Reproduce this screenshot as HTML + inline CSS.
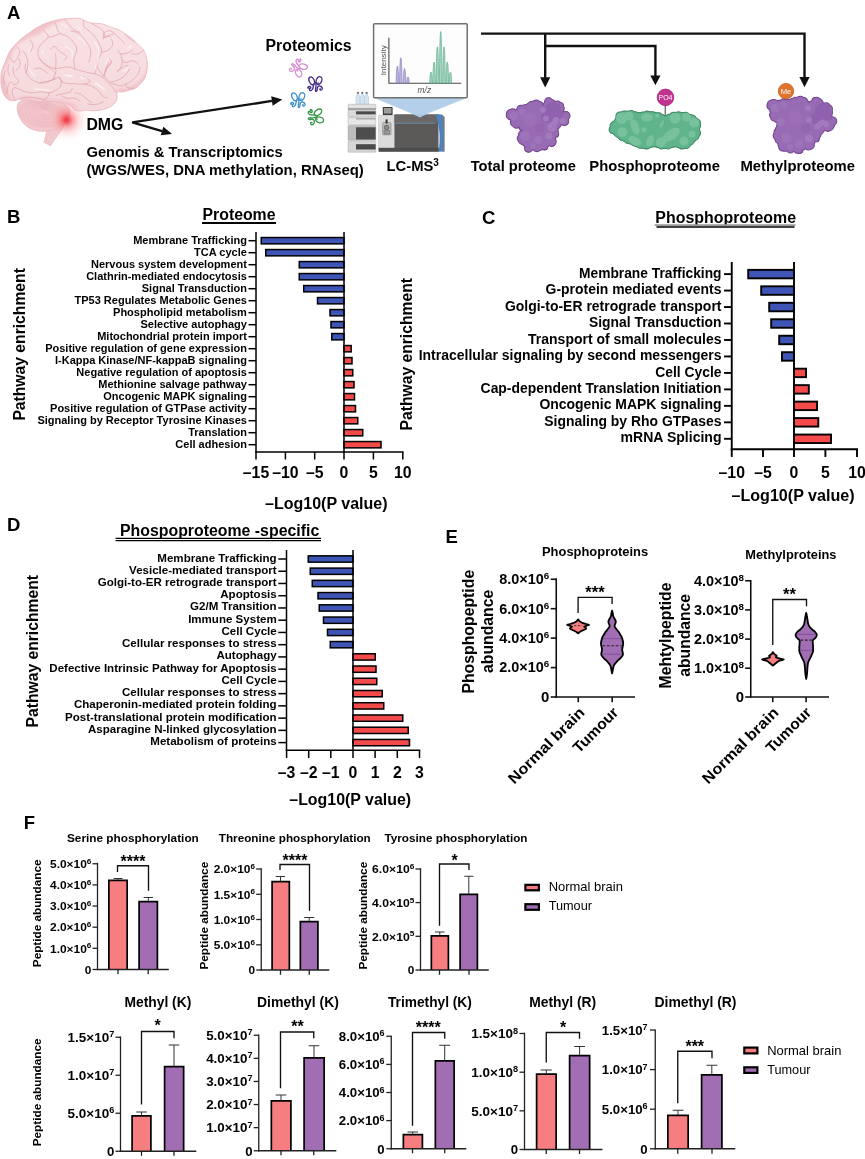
<!DOCTYPE html>
<html><head><meta charset="utf-8"><title>Figure</title>
<style>
html,body{margin:0;padding:0;background:#fff;}
body{width:865px;height:1159px;overflow:hidden;font-family:"Liberation Sans",sans-serif;}
svg{display:block;font-family:"Liberation Sans",sans-serif;opacity:0.999;will-change:transform;}
svg text{font-family:"Liberation Sans",sans-serif;}
</style></head><body>
<svg width="865" height="1159" viewBox="0 0 865 1159">
<rect width="865" height="1159" fill="#fff"/>
<text x="7.00" y="18.60" font-size="18.5" font-weight="bold" fill="#000">A</text>
<defs><radialGradient id="glow" cx="0.5" cy="0.5" r="0.5"><stop offset="0" stop-color="#f3303f" stop-opacity="0.98"/><stop offset="0.12" stop-color="#f44550" stop-opacity="0.9"/><stop offset="0.32" stop-color="#f7767c" stop-opacity="0.62"/><stop offset="0.6" stop-color="#faa5a8" stop-opacity="0.3"/><stop offset="0.85" stop-color="#fcc4c6" stop-opacity="0.1"/><stop offset="1" stop-color="#fdd" stop-opacity="0"/></radialGradient><linearGradient id="bg1" x1="0" y1="0" x2="0" y2="1"><stop offset="0" stop-color="#f9e3e5"/><stop offset="1" stop-color="#f5d8db"/></linearGradient><filter id="soft" x="-20%" y="-20%" width="140%" height="140%"><feGaussianBlur stdDeviation="1.6"/></filter><clipPath id="bclip"><path d="M8.80 99.80 C6.86 98.74 5.80 97.68 4.40 95.40 C3.00 93.12 2.50 91.56 1.80 88.40 C1.10 85.24 0.90 83.12 0.90 79.60 C0.90 76.08 0.92 74.32 1.80 70.80 C2.68 67.28 3.76 65.76 5.30 62.00 C6.84 58.24 7.60 55.38 9.50 52.00 C11.40 48.62 12.50 47.70 14.80 45.10 C17.10 42.50 18.42 41.22 21.00 39.00 C23.58 36.78 24.90 36.04 27.70 34.00 C30.50 31.96 32.04 30.64 35.00 28.80 C37.96 26.96 39.30 26.24 42.50 24.80 C45.70 23.36 47.30 22.72 51.00 21.60 C54.70 20.48 57.20 19.84 61.00 19.20 C64.80 18.56 66.30 18.58 70.00 18.40 C73.70 18.22 76.74 17.92 79.50 18.30 C82.26 18.68 81.54 19.38 83.80 20.30 C86.06 21.22 87.28 22.20 90.80 22.90 C94.32 23.60 97.54 23.00 101.40 23.80 C105.26 24.60 106.60 25.68 110.10 26.90 C113.60 28.12 115.90 28.50 118.90 29.90 C121.90 31.30 122.46 32.14 125.10 33.90 C127.74 35.66 129.46 36.50 132.10 38.70 C134.74 40.90 136.02 42.62 138.30 44.90 C140.58 47.18 141.92 47.64 143.50 50.10 C145.08 52.56 145.42 54.38 146.20 57.20 C146.98 60.02 147.22 61.84 147.40 64.20 C147.58 66.56 147.52 66.46 147.10 69.00 C146.68 71.54 146.36 74.26 145.30 76.90 C144.24 79.54 143.56 80.08 141.80 82.20 C140.04 84.32 138.96 85.92 136.50 87.50 C134.04 89.08 132.30 89.22 129.50 90.10 C126.70 90.98 124.96 91.48 122.50 91.90 C120.04 92.32 118.32 90.80 117.20 92.20 C116.08 93.60 117.60 96.50 116.90 98.90 C116.20 101.30 115.40 102.44 113.70 104.20 C112.00 105.96 110.86 106.56 108.40 107.70 C105.94 108.84 104.56 109.28 101.40 109.90 C98.24 110.52 95.78 110.74 92.60 110.80 C89.42 110.86 87.96 110.16 85.50 110.20 C83.04 110.24 82.40 111.04 80.30 111.00 C78.20 110.96 77.00 111.00 75.00 110.00 C73.00 109.00 73.00 107.50 70.30 106.00 C67.60 104.50 65.72 103.46 61.50 102.50 C57.28 101.54 53.60 101.34 49.20 101.20 C44.80 101.06 43.54 102.00 39.50 101.80 C35.46 101.60 32.86 100.70 29.00 100.20 C25.14 99.70 23.18 99.20 20.20 99.30 C17.22 99.40 16.38 100.60 14.10 100.70 C11.82 100.80 10.74 100.86 8.80 99.80Z"/></clipPath></defs>
<path d="M56 103 C64 110 67 121 62.5 128.5 L55 139 L50.5 145.8 L43.8 142.2 C46.5 134 48.5 126 48 114 Z" fill="#f3ccd0" stroke="#e6b0b7" stroke-width="0.6" />
<path d="M52.0 120.0 L46.0 142.6" fill="none" stroke="#e9b8be" stroke-width="0.5" />
<path d="M55.2 121.5 L48.1 143.7" fill="none" stroke="#e9b8be" stroke-width="0.5" />
<path d="M58.4 123.0 L50.2 144.8" fill="none" stroke="#e9b8be" stroke-width="0.5" />
<path d="M17.60 111.20 C17.06 108.30 16.92 106.64 17.80 104.50 C18.68 102.36 19.16 101.50 22.00 100.50 C24.84 99.50 27.40 99.50 32.00 99.50 C36.60 99.50 39.80 100.00 45.00 100.50 C50.20 101.00 53.60 100.90 58.00 102.00 C62.40 103.10 64.60 103.80 67.00 106.00 C69.40 108.20 70.10 110.00 70.00 113.00 C69.90 116.00 68.90 118.10 66.50 121.00 C64.10 123.90 61.90 125.50 58.00 127.50 C54.10 129.50 51.40 130.40 47.00 131.00 C42.60 131.60 40.00 131.40 36.00 130.50 C32.00 129.60 30.10 128.80 27.00 126.50 C23.90 124.20 22.38 122.06 20.50 119.00 C18.62 115.94 18.14 114.10 17.60 111.20Z" fill="#f2c8cc" stroke="#e4abb3" stroke-width="0.6" />
<g fill="none" stroke="#e3a5af" stroke-width="0.45" opacity="0.9">
<ellipse cx="42.0" cy="114.0" rx="23.0" ry="12.5" transform="rotate(10 42 114)"/>
<ellipse cx="42.5" cy="113.7" rx="20.4" ry="11.1" transform="rotate(10 42 114)"/>
<ellipse cx="43.0" cy="113.3" rx="17.8" ry="9.6" transform="rotate(10 42 114)"/>
<ellipse cx="43.5" cy="113.0" rx="15.2" ry="8.2" transform="rotate(10 42 114)"/>
<ellipse cx="44.0" cy="112.6" rx="12.6" ry="6.7" transform="rotate(10 42 114)"/>
<ellipse cx="44.5" cy="112.2" rx="10.0" ry="5.2" transform="rotate(10 42 114)"/>
<ellipse cx="45.0" cy="111.9" rx="7.4" ry="3.8" transform="rotate(10 42 114)"/>
<ellipse cx="45.5" cy="111.5" rx="4.8" ry="2.3" transform="rotate(10 42 114)"/>
</g>
<path d="M8.80 99.80 C6.86 98.74 5.80 97.68 4.40 95.40 C3.00 93.12 2.50 91.56 1.80 88.40 C1.10 85.24 0.90 83.12 0.90 79.60 C0.90 76.08 0.92 74.32 1.80 70.80 C2.68 67.28 3.76 65.76 5.30 62.00 C6.84 58.24 7.60 55.38 9.50 52.00 C11.40 48.62 12.50 47.70 14.80 45.10 C17.10 42.50 18.42 41.22 21.00 39.00 C23.58 36.78 24.90 36.04 27.70 34.00 C30.50 31.96 32.04 30.64 35.00 28.80 C37.96 26.96 39.30 26.24 42.50 24.80 C45.70 23.36 47.30 22.72 51.00 21.60 C54.70 20.48 57.20 19.84 61.00 19.20 C64.80 18.56 66.30 18.58 70.00 18.40 C73.70 18.22 76.74 17.92 79.50 18.30 C82.26 18.68 81.54 19.38 83.80 20.30 C86.06 21.22 87.28 22.20 90.80 22.90 C94.32 23.60 97.54 23.00 101.40 23.80 C105.26 24.60 106.60 25.68 110.10 26.90 C113.60 28.12 115.90 28.50 118.90 29.90 C121.90 31.30 122.46 32.14 125.10 33.90 C127.74 35.66 129.46 36.50 132.10 38.70 C134.74 40.90 136.02 42.62 138.30 44.90 C140.58 47.18 141.92 47.64 143.50 50.10 C145.08 52.56 145.42 54.38 146.20 57.20 C146.98 60.02 147.22 61.84 147.40 64.20 C147.58 66.56 147.52 66.46 147.10 69.00 C146.68 71.54 146.36 74.26 145.30 76.90 C144.24 79.54 143.56 80.08 141.80 82.20 C140.04 84.32 138.96 85.92 136.50 87.50 C134.04 89.08 132.30 89.22 129.50 90.10 C126.70 90.98 124.96 91.48 122.50 91.90 C120.04 92.32 118.32 90.80 117.20 92.20 C116.08 93.60 117.60 96.50 116.90 98.90 C116.20 101.30 115.40 102.44 113.70 104.20 C112.00 105.96 110.86 106.56 108.40 107.70 C105.94 108.84 104.56 109.28 101.40 109.90 C98.24 110.52 95.78 110.74 92.60 110.80 C89.42 110.86 87.96 110.16 85.50 110.20 C83.04 110.24 82.40 111.04 80.30 111.00 C78.20 110.96 77.00 111.00 75.00 110.00 C73.00 109.00 73.00 107.50 70.30 106.00 C67.60 104.50 65.72 103.46 61.50 102.50 C57.28 101.54 53.60 101.34 49.20 101.20 C44.80 101.06 43.54 102.00 39.50 101.80 C35.46 101.60 32.86 100.70 29.00 100.20 C25.14 99.70 23.18 99.20 20.20 99.30 C17.22 99.40 16.38 100.60 14.10 100.70 C11.82 100.80 10.74 100.86 8.80 99.80Z" fill="url(#bg1)" stroke="#e9b4bb" stroke-width="0.8" />
<g clip-path="url(#bclip)" fill="none" stroke-linecap="round" stroke-linejoin="round">
<path d="M-6 104 L-6 8 L78 8 L74 17 L64.8 19.6 L55.5 23.3 L50 26 L43.5 30.7 L38.9 34.4 L30.5 37.1 L23.1 40.8 L17.6 44.5 L13 51 L10.2 57.5 L5.6 65.8 L1.9 73.2 L6 84 L12 104 Z" fill="#efbcc2" stroke="none" opacity="0.8" filter="url(#soft)"/>
<path d="M118 96 L150 96 L150 62 C146 74 140 82 132 86 C127 88 122 89 117 88.5Z" fill="#efbcc2" stroke="none" opacity="0.7" filter="url(#soft)"/>
<path d="M6 104 L20 96 C34 97 48 98 62 99 L76 104 L76 112 L6 112Z" fill="#f0c0c6" stroke="none" opacity="0.6" filter="url(#soft)"/>
<path d="M43.50 30.70 C44.52 32.12 48.72 34.03 48.10 37.10 C47.48 40.17 42.97 40.99 40.70 44.50 C38.43 48.01 37.90 49.39 37.90 52.90 C37.90 56.41 38.83 57.43 40.70 60.30 C42.57 63.17 43.83 63.76 46.30 65.80 C48.77 67.84 49.76 67.86 51.80 69.50 C53.84 71.14 54.68 72.38 55.50 73.20" stroke="#dd97a6" stroke-width="0.7" opacity="0.85"/>
<path d="M55.50 23.30 C55.92 24.52 56.38 26.56 57.40 28.80 C58.42 31.04 58.06 31.76 60.10 33.40 C62.14 35.04 63.71 34.33 66.60 36.20 C69.49 38.07 70.83 38.91 73.10 41.80 C75.37 44.69 76.60 45.51 76.80 49.20 C77.00 52.89 74.42 54.11 74.00 58.40 C73.58 62.69 74.70 66.26 74.90 68.50" stroke="#dd97a6" stroke-width="0.7" opacity="0.85"/>
<path d="M48.10 37.10 C49.34 36.90 51.03 37.02 53.70 36.20 C56.37 35.38 58.68 34.02 60.10 33.40" stroke="#dd97a6" stroke-width="0.7" opacity="0.85"/>
<path d="M50.40 49.60 C51.33 48.89 52.64 46.09 54.60 46.40 C56.56 46.71 56.93 49.16 59.20 51.00 C61.47 52.84 63.16 53.26 64.80 54.70 C66.44 56.14 66.82 56.26 66.60 57.50 C66.38 58.74 64.42 59.68 63.80 60.30" stroke="#dd97a6" stroke-width="0.7" opacity="0.85"/>
<path d="M55.50 53.80 C55.61 55.64 56.00 58.61 56.00 62.10 C56.00 65.59 55.61 67.86 55.50 69.50" stroke="#dd97a6" stroke-width="0.7" opacity="0.85"/>
<path d="M10.20 57.50 C11.02 58.52 12.06 61.90 13.90 62.10 C15.74 62.30 17.17 57.58 18.50 58.40 C19.83 59.22 20.52 63.13 19.90 65.80 C19.28 68.47 16.63 69.38 15.70 70.40" stroke="#dd97a6" stroke-width="0.7" opacity="0.85"/>
<path d="M23.10 51.00 C23.92 52.44 25.76 54.21 26.80 57.50 C27.84 60.79 28.00 62.31 27.80 65.80 C27.60 69.29 26.32 71.56 25.90 73.20" stroke="#dd97a6" stroke-width="0.7" opacity="0.85"/>
<path d="M64.80 19.60 C65.62 20.62 66.46 21.96 68.50 24.20 C70.54 26.44 71.44 27.86 74.00 29.70 C76.56 31.54 78.67 31.88 80.00 32.50" stroke="#dd97a6" stroke-width="0.7" opacity="0.85"/>
<path d="M70.50 30.90 C72.37 31.52 75.39 31.23 78.90 33.70 C82.41 36.17 83.83 38.71 86.30 42.00 C88.77 45.29 89.09 45.41 90.00 48.50 C90.91 51.59 90.71 52.81 90.40 55.90 C90.09 58.99 89.00 60.96 88.60 62.40" stroke="#dd97a6" stroke-width="0.7" opacity="0.85"/>
<path d="M83.80 20.30 C83.80 21.66 82.44 23.87 83.80 26.40 C85.16 28.93 87.37 29.34 89.90 31.70 C92.43 34.06 93.04 34.07 95.20 37.00 C97.36 39.93 98.22 41.59 99.60 44.90 C100.98 48.21 101.80 48.39 101.40 51.90 C101.00 55.41 98.98 56.79 97.80 60.70 C96.62 64.61 96.81 66.66 96.10 69.50 C95.39 72.34 94.93 72.61 94.60 73.50" stroke="#dd97a6" stroke-width="0.7" opacity="0.85"/>
<path d="M101.40 51.90 C102.56 51.70 104.47 51.98 106.60 51.00 C108.73 50.02 109.62 49.26 111.00 47.50 C112.38 45.74 112.76 44.92 112.80 43.10 C112.84 41.28 111.56 40.14 111.20 39.30" stroke="#dd97a6" stroke-width="0.7" opacity="0.85"/>
<path d="M103.80 32.80 C104.02 33.82 103.76 36.78 104.80 37.40 C105.84 38.02 106.46 36.42 108.50 35.60 C110.54 34.78 112.78 34.12 114.00 33.70" stroke="#dd97a6" stroke-width="0.7" opacity="0.85"/>
<path d="M40.00 58.70 C41.24 59.92 42.31 62.04 45.60 64.20 C48.89 66.36 49.87 67.78 54.80 68.40 C59.73 69.02 62.87 66.69 67.80 67.00 C72.73 67.31 72.49 68.56 77.00 69.80 C81.51 71.04 83.17 71.36 88.10 72.60 C93.03 73.84 95.09 73.53 99.20 75.40 C103.31 77.27 103.64 78.33 106.60 81.00 C109.56 83.67 110.34 84.84 112.50 87.40 C114.66 89.96 115.46 91.37 116.30 92.50" stroke="#dd97a6" stroke-width="0.7" opacity="0.85"/>
<path d="M108.50 57.80 C109.10 58.82 111.62 59.93 111.20 62.40 C110.78 64.87 108.24 65.81 106.60 68.90 C104.96 71.99 104.42 74.66 103.80 76.30" stroke="#dd97a6" stroke-width="0.7" opacity="0.85"/>
<path d="M58.50 77.20 C59.72 78.42 60.29 81.26 64.00 82.70 C67.71 84.14 70.80 83.41 75.20 83.70 C79.60 83.99 80.53 84.53 83.80 84.00 C87.07 83.47 89.90 82.88 89.90 81.30 C89.90 79.72 85.16 77.88 83.80 76.90" stroke="#dd97a6" stroke-width="0.7" opacity="0.85"/>
<path d="M40.00 82.70 C42.07 82.30 45.81 81.72 49.30 80.90 C52.79 80.08 54.28 79.42 55.70 79.00" stroke="#dd97a6" stroke-width="0.7" opacity="0.85"/>
<path d="M90.80 22.90 C92.76 24.08 96.67 26.04 99.60 28.20 C102.53 30.36 103.22 30.27 104.00 32.60 C104.78 34.93 102.70 37.92 103.10 38.70 C103.50 39.48 104.24 36.48 105.80 36.10 C107.36 35.72 109.14 36.80 110.10 37.00" stroke="#dd97a6" stroke-width="0.7" opacity="0.85"/>
<path d="M104.00 32.60 C105.36 32.20 107.37 30.22 110.10 30.80 C112.83 31.38 113.54 32.84 116.30 35.20 C119.06 37.56 120.66 39.44 122.50 41.40 C124.34 43.36 124.13 43.42 124.60 44.00" stroke="#dd97a6" stroke-width="0.7" opacity="0.85"/>
<path d="M118.10 50.10 C118.68 50.90 118.57 53.10 120.70 53.70 C122.83 54.30 124.97 53.60 127.70 52.80 C130.43 52.00 131.82 50.70 133.00 50.10" stroke="#dd97a6" stroke-width="0.7" opacity="0.85"/>
<path d="M120.70 53.70 C121.10 55.26 121.32 58.74 122.50 60.70 C123.68 62.66 123.67 62.50 126.00 62.50 C128.33 62.50 130.27 60.32 133.00 60.70 C135.73 61.08 137.12 63.42 138.30 64.20" stroke="#dd97a6" stroke-width="0.7" opacity="0.85"/>
<path d="M122.50 60.70 C122.10 62.26 121.88 65.37 120.70 67.70 C119.52 70.03 117.98 70.42 117.20 71.20" stroke="#dd97a6" stroke-width="0.7" opacity="0.85"/>
<path d="M111.90 61.60 C110.92 62.76 108.86 64.67 107.50 66.80 C106.14 68.93 106.18 70.22 105.80 71.20" stroke="#dd97a6" stroke-width="0.7" opacity="0.85"/>
<path d="M132.10 53.70 C133.48 53.70 135.77 54.50 138.30 53.70 C140.83 52.90 142.34 50.90 143.50 50.10" stroke="#dd97a6" stroke-width="0.7" opacity="0.85"/>
<path d="M125.10 33.90 C125.68 34.59 125.54 35.16 127.70 37.00 C129.86 38.84 133.22 41.04 134.80 42.20" stroke="#dd97a6" stroke-width="0.7" opacity="0.85"/>
<path d="M25.50 63.80 C25.50 65.16 24.72 66.99 25.50 69.90 C26.28 72.81 26.87 74.37 29.00 76.90 C31.13 79.43 32.37 79.92 35.10 81.30 C37.83 82.68 38.17 83.10 41.30 83.10 C44.43 83.10 46.47 82.28 49.20 81.30 C51.93 80.32 52.62 79.28 53.60 78.70" stroke="#dd97a6" stroke-width="0.7" opacity="0.85"/>
<path d="M53.60 78.70 C54.18 76.94 55.62 72.56 56.20 70.80" stroke="#dd97a6" stroke-width="0.7" opacity="0.85"/>
<path d="M53.60 78.70 C54.98 78.50 58.04 77.02 59.80 77.80 C61.56 78.58 61.12 81.22 61.50 82.20" stroke="#dd97a6" stroke-width="0.7" opacity="0.85"/>
<path d="M61.50 82.20 C61.12 83.38 61.36 85.54 59.80 87.50 C58.24 89.46 56.86 89.82 54.50 91.00 C52.14 92.18 52.13 92.60 49.20 92.80 C46.27 93.00 44.81 91.90 41.30 91.90 C37.79 91.90 36.91 92.80 33.40 92.80 C29.89 92.80 28.63 92.70 25.50 91.90 C22.37 91.10 21.66 90.18 19.30 89.20 C16.94 88.22 15.88 87.88 14.90 87.50" stroke="#dd97a6" stroke-width="0.7" opacity="0.85"/>
<path d="M14.90 87.50 C14.32 88.08 12.68 88.14 12.30 90.10 C11.92 92.06 12.62 94.14 13.20 96.30 C13.78 98.46 14.52 99.02 14.90 99.80" stroke="#dd97a6" stroke-width="0.7" opacity="0.85"/>
<path d="M20.20 98.90 C21.58 98.52 22.69 97.40 26.40 97.20 C30.11 97.00 33.01 97.42 36.90 98.00 C40.79 98.58 42.34 99.40 43.90 99.80" stroke="#dd97a6" stroke-width="0.7" opacity="0.85"/>
<path d="M49.20 92.80 C48.82 93.78 48.68 95.64 47.50 97.20 C46.32 98.76 44.70 99.22 43.90 99.80" stroke="#dd97a6" stroke-width="0.7" opacity="0.85"/>
<path d="M56.20 95.40 C57.78 95.00 60.17 94.38 63.30 93.60 C66.43 92.82 68.34 93.06 70.30 91.90 C72.26 90.74 71.70 89.18 72.10 88.40" stroke="#dd97a6" stroke-width="0.7" opacity="0.85"/>
<path d="M13.20 67.30 C13.40 69.06 12.92 72.27 14.10 75.20 C15.28 78.13 18.32 78.37 18.50 80.50 C18.68 82.63 16.68 84.42 14.90 84.80 C13.12 85.18 12.06 81.80 10.50 82.20 C8.94 82.60 8.68 84.07 7.90 86.60 C7.12 89.13 7.20 92.04 7.00 93.60" stroke="#dd97a6" stroke-width="0.7" opacity="0.85"/>
<path d="M8.80 64.60 C8.60 65.98 7.70 68.24 7.90 70.80 C8.10 73.36 9.30 74.92 9.70 76.10" stroke="#dd97a6" stroke-width="0.7" opacity="0.85"/>
<path d="M5.30 70.80 C4.90 72.36 3.70 74.87 3.50 77.80 C3.30 80.73 4.20 82.62 4.40 84.00" stroke="#dd97a6" stroke-width="0.7" opacity="0.85"/>
<path d="M34.30 69.00 C35.46 68.82 36.97 67.60 39.50 68.20 C42.03 68.80 43.92 70.54 45.70 71.70 C47.48 72.86 47.10 73.02 47.50 73.40" stroke="#dd97a6" stroke-width="0.7" opacity="0.85"/>
<path d="M83.80 84.00 C85.76 84.58 89.29 85.04 92.60 86.60 C95.91 88.16 96.37 88.84 98.70 91.00 C101.03 93.16 101.14 94.74 103.10 96.30 C105.06 97.86 106.52 97.62 107.50 98.00" stroke="#dd97a6" stroke-width="0.7" opacity="0.85"/>
<path d="M75.00 92.80 C76.38 93.18 78.67 93.14 81.20 94.50 C83.73 95.86 84.07 97.14 86.40 98.90 C88.73 100.66 90.52 101.62 91.70 102.40" stroke="#dd97a6" stroke-width="0.7" opacity="0.85"/>
<path d="M97.00 62.00 C97.18 63.38 96.24 65.07 97.80 68.20 C99.36 71.33 101.27 72.99 104.00 76.10 C106.73 79.21 107.94 80.44 110.10 82.20 C112.26 83.96 112.90 83.60 113.70 84.00" stroke="#dd97a6" stroke-width="0.7" opacity="0.85"/>
<path d="M108.40 62.00 C107.82 63.56 106.78 65.87 105.80 69.00 C104.82 72.13 104.40 74.52 104.00 76.10" stroke="#dd97a6" stroke-width="0.7" opacity="0.85"/>
<path d="M110.10 82.20 C112.06 81.62 115.37 81.36 118.90 79.60 C122.43 77.84 123.64 76.66 126.00 74.30 C128.36 71.94 128.72 70.18 129.50 69.00" stroke="#dd97a6" stroke-width="0.7" opacity="0.85"/>
<path d="M117.20 71.70 C118.38 70.72 120.17 68.68 122.50 67.30 C124.83 65.92 126.54 65.90 127.70 65.50" stroke="#dd97a6" stroke-width="0.7" opacity="0.85"/>
<path d="M113.70 84.00 C115.26 84.38 117.97 85.70 120.70 85.70 C123.43 85.70 123.27 85.36 126.00 84.00 C128.73 82.64 130.27 81.96 133.00 79.60 C135.73 77.24 136.74 76.13 138.30 73.40 C139.86 70.67 139.62 68.66 140.00 67.30" stroke="#dd97a6" stroke-width="0.7" opacity="0.85"/>
<path d="M126.00 84.00 C126.38 84.78 125.74 86.52 127.70 87.50 C129.66 88.48 133.22 88.20 134.80 88.40" stroke="#dd97a6" stroke-width="0.7" opacity="0.85"/>
<path d="M30.00 40.00 C30.67 41.33 33.00 43.33 33.00 46.00 C33.00 48.67 30.67 50.67 30.00 52.00" stroke="#dd97a6" stroke-width="0.7" opacity="0.85"/>
<path d="M17.00 47.00 C17.67 48.11 19.89 49.78 20.00 52.00 C20.11 54.22 18.06 55.89 17.50 57.00" stroke="#dd97a6" stroke-width="0.7" opacity="0.85"/>
<path d="M62.00 96.00 C63.33 96.56 65.33 98.06 68.00 98.50 C70.67 98.94 71.33 97.44 74.00 98.00 C76.67 98.56 78.67 100.33 80.00 101.00" stroke="#dd97a6" stroke-width="0.7" opacity="0.85"/>
<path d="M88.00 104.00 C89.78 104.11 92.67 104.94 96.00 104.50 C99.33 104.06 101.44 102.56 103.00 102.00" stroke="#dd97a6" stroke-width="0.7" opacity="0.85"/>
<path d="M65.00 46.70 C66.44 47.52 69.86 47.93 71.50 50.40 C73.14 52.87 72.20 56.16 72.40 57.80" stroke="#fdf1f1" stroke-width="1.5" opacity="0.8"/>
<path d="M77.90 36.50 C79.14 37.52 81.86 39.26 83.50 41.10 C85.14 42.94 84.90 43.98 85.30 44.80" stroke="#fdf1f1" stroke-width="1.5" opacity="0.8"/>
<path d="M94.60 42.00 C95.42 43.44 97.54 44.94 98.30 48.50 C99.06 52.06 98.47 54.11 98.00 58.00 C97.53 61.89 96.60 64.22 96.20 66.00" stroke="#fdf1f1" stroke-width="1.5" opacity="0.8"/>
<path d="M65.90 75.30 C67.34 75.52 70.96 76.08 72.40 76.30" stroke="#fdf1f1" stroke-width="1.5" opacity="0.8"/>
<path d="M80.70 77.60 C81.94 77.82 85.06 78.38 86.30 78.60" stroke="#fdf1f1" stroke-width="1.5" opacity="0.8"/>
<path d="M95.50 83.70 C97.14 84.52 101.26 86.58 102.90 87.40" stroke="#fdf1f1" stroke-width="1.5" opacity="0.8"/>
<path d="M78.50 26.40 C78.90 27.18 79.90 29.12 80.30 29.90" stroke="#fdf1f1" stroke-width="1.5" opacity="0.8"/>
<path d="M108.40 58.00 C107.82 59.38 106.38 62.82 105.80 64.20" stroke="#fdf1f1" stroke-width="1.5" opacity="0.8"/>
<path d="M127.70 48.40 C128.48 47.82 130.42 46.38 131.20 45.80" stroke="#fdf1f1" stroke-width="1.5" opacity="0.8"/>
<path d="M124.20 71.20 C124.98 70.62 126.92 69.18 127.70 68.60" stroke="#fdf1f1" stroke-width="1.5" opacity="0.8"/>
<path d="M29.00 67.30 C29.40 68.28 29.44 69.74 30.80 71.70 C32.16 73.66 34.14 75.12 35.10 76.10" stroke="#fdf1f1" stroke-width="1.5" opacity="0.8"/>
<path d="M35.10 89.20 C37.06 89.31 40.77 89.39 43.90 89.70 C47.03 90.01 48.02 90.40 49.20 90.60" stroke="#fdf1f1" stroke-width="1.5" opacity="0.8"/>
<path d="M65.00 75.60 C66.38 75.71 69.82 75.99 71.20 76.10" stroke="#fdf1f1" stroke-width="1.5" opacity="0.8"/>
<path d="M97.00 83.10 C97.98 84.08 99.64 85.94 101.40 87.50 C103.16 89.06 104.12 89.52 104.90 90.10" stroke="#fdf1f1" stroke-width="1.5" opacity="0.8"/>
<path d="M28.50 49.00 C28.72 49.89 29.28 52.11 29.50 53.00" stroke="#fdf1f1" stroke-width="1.5" opacity="0.8"/>
<path d="M43.00 50.00 C42.78 50.89 42.22 53.11 42.00 54.00" stroke="#fdf1f1" stroke-width="1.5" opacity="0.8"/>
<path d="M62.00 24.00 C63.11 24.67 65.89 26.33 67.00 27.00" stroke="#fdf1f1" stroke-width="1.5" opacity="0.8"/>
<path d="M95.20 65.50 C95.40 66.28 95.90 68.22 96.10 69.00" stroke="#fdf1f1" stroke-width="1.5" opacity="0.8"/>
</g>
<circle cx="66.7" cy="119.8" r="22" fill="url(#glow)"/>
<text x="86.40" y="129.60" font-size="15.8" font-weight="bold" fill="#000" textLength="36.90" lengthAdjust="spacingAndGlyphs">DMG</text>
<text x="86.40" y="157.40" font-size="14.8" font-weight="bold" fill="#000" textLength="196.40" lengthAdjust="spacingAndGlyphs">Genomis &amp; Transcriptomics</text>
<text x="86.40" y="175.20" font-size="14.8" font-weight="bold" fill="#000" textLength="277.40" lengthAdjust="spacingAndGlyphs">(WGS/WES, DNA methylation, RNAseq)</text>
<text x="265.60" y="51.30" font-size="15.8" font-weight="bold" fill="#000" textLength="86.00" lengthAdjust="spacingAndGlyphs">Proteomics</text>
<polygon points="282.30,99.40 272.64,105.68 271.20,96.29" fill="#111"/>
<polygon points="172.10,134.00 160.76,135.36 163.29,126.73" fill="#111"/>
<path d="M271.92 100.98 L132.2 122.3 L162.02 131.05" fill="none" stroke="#111" stroke-width="2.3" stroke-linejoin="miter"/>
<g transform="translate(298 67.6) rotate(128) scale(1.08 1)" fill="none" stroke="#d78fd0" stroke-width="1.3" stroke-linecap="round" stroke-linejoin="round">
<ellipse cx="-3.7" cy="-3.6" rx="2.5" ry="4.1" transform="rotate(-24 -3.7 -3.6)"/>
<ellipse cx="3.6" cy="-3.8" rx="2.7" ry="4.0" transform="rotate(22 3.6 -3.8)"/>
<path d="M-1.2 -0.6 C-2.8 1.6 -1.6 3.6 -3.4 5.4 C-4.4 6.6 -6.2 6.4 -6 5"/>
<path d="M-7.6 3.6 C-7.8 1.6 -4.6 1.4 -4.6 3.2 C-4.6 4.6 -6.4 4.6 -6.4 3.4"/>
<path d="M0.4 -0.4 C1.6 2.2 -0.6 4.4 0.2 6.8 C0.8 7.8 1.8 6.4 1.8 5 C1.8 3 2.6 1.2 4.2 1.6 C6.6 2.2 7.8 4.2 6.4 5.4 C5.2 6.2 4 5.2 4.8 4.2"/>
<path d="M-0.6 -2.4 C0.4 -1.2 1.8 -0.8 3 -1.4"/>
</g>
<g transform="translate(315.4 84.4) rotate(0) scale(1.0 1)" fill="none" stroke="#47298a" stroke-width="1.3" stroke-linecap="round" stroke-linejoin="round">
<ellipse cx="-3.7" cy="-3.6" rx="2.5" ry="4.1" transform="rotate(-24 -3.7 -3.6)"/>
<ellipse cx="3.6" cy="-3.8" rx="2.7" ry="4.0" transform="rotate(22 3.6 -3.8)"/>
<path d="M-1.2 -0.6 C-2.8 1.6 -1.6 3.6 -3.4 5.4 C-4.4 6.6 -6.2 6.4 -6 5"/>
<path d="M-7.6 3.6 C-7.8 1.6 -4.6 1.4 -4.6 3.2 C-4.6 4.6 -6.4 4.6 -6.4 3.4"/>
<path d="M0.4 -0.4 C1.6 2.2 -0.6 4.4 0.2 6.8 C0.8 7.8 1.8 6.4 1.8 5 C1.8 3 2.6 1.2 4.2 1.6 C6.6 2.2 7.8 4.2 6.4 5.4 C5.2 6.2 4 5.2 4.8 4.2"/>
<path d="M-0.6 -2.4 C0.4 -1.2 1.8 -0.8 3 -1.4"/>
</g>
<g transform="translate(298.2 100.4) rotate(0) scale(1.0 1)" fill="none" stroke="#3a8fc8" stroke-width="1.3" stroke-linecap="round" stroke-linejoin="round">
<ellipse cx="-3.7" cy="-3.6" rx="2.5" ry="4.1" transform="rotate(-24 -3.7 -3.6)"/>
<ellipse cx="3.6" cy="-3.8" rx="2.7" ry="4.0" transform="rotate(22 3.6 -3.8)"/>
<path d="M-1.2 -0.6 C-2.8 1.6 -1.6 3.6 -3.4 5.4 C-4.4 6.6 -6.2 6.4 -6 5"/>
<path d="M-7.6 3.6 C-7.8 1.6 -4.6 1.4 -4.6 3.2 C-4.6 4.6 -6.4 4.6 -6.4 3.4"/>
<path d="M0.4 -0.4 C1.6 2.2 -0.6 4.4 0.2 6.8 C0.8 7.8 1.8 6.4 1.8 5 C1.8 3 2.6 1.2 4.2 1.6 C6.6 2.2 7.8 4.2 6.4 5.4 C5.2 6.2 4 5.2 4.8 4.2"/>
<path d="M-0.6 -2.4 C0.4 -1.2 1.8 -0.8 3 -1.4"/>
</g>
<g transform="translate(315.2 116.8) rotate(80) scale(1.05 1)" fill="none" stroke="#359544" stroke-width="1.3" stroke-linecap="round" stroke-linejoin="round">
<ellipse cx="-3.7" cy="-3.6" rx="2.5" ry="4.1" transform="rotate(-24 -3.7 -3.6)"/>
<ellipse cx="3.6" cy="-3.8" rx="2.7" ry="4.0" transform="rotate(22 3.6 -3.8)"/>
<path d="M-1.2 -0.6 C-2.8 1.6 -1.6 3.6 -3.4 5.4 C-4.4 6.6 -6.2 6.4 -6 5"/>
<path d="M-7.6 3.6 C-7.8 1.6 -4.6 1.4 -4.6 3.2 C-4.6 4.6 -6.4 4.6 -6.4 3.4"/>
<path d="M0.4 -0.4 C1.6 2.2 -0.6 4.4 0.2 6.8 C0.8 7.8 1.8 6.4 1.8 5 C1.8 3 2.6 1.2 4.2 1.6 C6.6 2.2 7.8 4.2 6.4 5.4 C5.2 6.2 4 5.2 4.8 4.2"/>
<path d="M-0.6 -2.4 C0.4 -1.2 1.8 -0.8 3 -1.4"/>
</g>
<path d="M356.0 104.3 V97 L357.2 94.2 V92.8 H358.8 V94.2 L360.0 97 V104.3Z" fill="#d5e6f4" stroke="#9db4c8" stroke-width="0.4"/>
<rect x="357.1" y="92.2" width="1.8" height="1.3" fill="#444"/>
<path d="M360.3 104.3 V97 L361.5 94.2 V92.8 H363.1 V94.2 L364.3 97 V104.3Z" fill="#d5e6f4" stroke="#9db4c8" stroke-width="0.4"/>
<rect x="361.40000000000003" y="92.2" width="1.8" height="1.3" fill="#444"/>
<path d="M364.6 104.3 V97 L365.8 94.2 V92.8 H367.40000000000003 V94.2 L368.6 97 V104.3Z" fill="#d5e6f4" stroke="#9db4c8" stroke-width="0.4"/>
<rect x="365.70000000000005" y="92.2" width="1.8" height="1.3" fill="#444"/>
<rect x="348" y="104.3" width="27.899999999999977" height="5.299999999999997" rx="0.8" fill="#e1e1e1" stroke="#9a9a9a" stroke-width="0.4"/>
<rect x="348" y="108.3" width="27.899999999999977" height="1.3" fill="#8c8c8c"/>
<rect x="348" y="110.3" width="27.899999999999977" height="6.6000000000000085" rx="0.8" fill="#dadada" stroke="#9a9a9a" stroke-width="0.4"/>
<rect x="356" y="111.3" width="19.6" height="3.1000000000000085" fill="#4a4a4a"/>
<rect x="348" y="117.6" width="27.899999999999977" height="7.300000000000011" rx="0.8" fill="#e6e6e6" stroke="#9a9a9a" stroke-width="0.4"/>
<rect x="356" y="118.3" width="19.6" height="1.1" fill="#999"/>
<rect x="348" y="125.6" width="27.899999999999977" height="14.599999999999994" rx="0.8" fill="#bdbdbd" stroke="#9a9a9a" stroke-width="0.4"/>
<rect x="356" y="127.3" width="19.6" height="12.200000000000003" fill="#4d4d4d"/>
<rect x="348" y="140.9" width="27.899999999999977" height="11.299999999999983" rx="0.8" fill="#d6d6d6" stroke="#9a9a9a" stroke-width="0.4"/>
<rect x="356" y="144.2" width="19.6" height="5.300000000000011" fill="#4a4a4a"/>
<rect x="378.6" y="115.3" width="16.2" height="35" fill="#dcdcdc" stroke="#aaa" stroke-width="0.4"/>
<rect x="394.5" y="114.5" width="44" height="35.6" fill="#5c5a58"/>
<rect x="394.5" y="114.5" width="44" height="8.4" fill="#6a6866"/>
<rect x="394.5" y="122.8" width="41" height="0.9" fill="#6a8fae"/>
<path d="M435.6 114.3 L441.8 114.6 L444.4 117 L444.4 151.5 L438.6 151.8 C440.5 140 440 126 435.6 114.3Z" fill="#4b82c3"/>
<path d="M441.8 114.6 L444.4 117 L444.4 151.5 L442.6 151.6 C443.4 139 443.2 126 441.8 114.6Z" fill="#7a7a7a"/>
<rect x="378.6" y="147.8" width="60.2" height="4" fill="#4d4d4d"/>
<rect x="382.8" y="107" width="9.8" height="8" rx="0.6" fill="#3a3a3a"/>
<rect x="383.9" y="108" width="7.6" height="5.6" fill="#9c9c9c"/>
<rect x="382.6" y="122.5" width="8.4" height="12.4" rx="1" fill="#bcbcbc" stroke="#777" stroke-width="0.5"/>
<circle cx="386.6" cy="127.5" r="2.3" fill="#8a8a8a" stroke="#444" stroke-width="0.6"/>
<rect x="385.6" y="119.4" width="2" height="4" fill="#333"/>
<rect x="384" y="130.5" width="5.5" height="3.5" fill="#999" stroke="#555" stroke-width="0.4"/>
<polygon points="374.3,98 466.5,98 428,113.4 419.8,117.6 411.6,113.4" fill="#afcce8" opacity="0.95"/>
<rect x="373.6" y="23.7" width="93.6" height="74" rx="1" fill="#fdfdfd" stroke="#707070" stroke-width="1.5"/>
<path d="M388.9 37.8 V83.3 H461.2" fill="none" stroke="#4a4a4a" stroke-width="1.1" />
<text x="386.00" y="75.30" font-size="8" font-weight="normal" fill="#555" textLength="30.00" lengthAdjust="spacingAndGlyphs" transform="rotate(-90 386.00 75.30)">Intensity</text>
<text x="417.60" y="93.00" font-size="8.4" font-weight="normal" fill="#555" textLength="13.60" lengthAdjust="spacingAndGlyphs" font-style="italic">m/z</text>
<path d="M396.00 83 C396.25 83 396.35 66.00 397.40 66.00 C398.45 66.00 398.55 83 398.80 83Z" fill="#b9b4dc" stroke="#8c84c2" stroke-width="0.7" />
<path d="M399.40 83 C399.65 83 399.75 57.70 400.80 57.70 C401.85 57.70 401.95 83 402.20 83Z" fill="#b9b4dc" stroke="#8c84c2" stroke-width="0.7" />
<path d="M403.10 83 C403.35 83 403.45 68.40 404.50 68.40 C405.55 68.40 405.65 83 405.90 83Z" fill="#b9b4dc" stroke="#8c84c2" stroke-width="0.7" />
<path d="M406.60 83 C406.85 83 406.95 76.80 408.00 76.80 C409.05 76.80 409.15 83 409.40 83Z" fill="#b9b4dc" stroke="#8c84c2" stroke-width="0.7" />
<path d="M429.60 83 C429.85 83 429.95 72.00 431.00 72.00 C432.05 72.00 432.15 83 432.40 83Z" fill="#a6d6c0" stroke="#5fae8d" stroke-width="0.7" />
<path d="M432.70 83 C432.95 83 433.05 62.00 434.10 62.00 C435.15 62.00 435.25 83 435.50 83Z" fill="#a6d6c0" stroke="#5fae8d" stroke-width="0.7" />
<path d="M436.00 83 C436.25 83 436.35 46.80 437.40 46.80 C438.45 46.80 438.55 83 438.80 83Z" fill="#a6d6c0" stroke="#5fae8d" stroke-width="0.7" />
<path d="M439.30 83 C439.55 83 439.65 31.50 440.70 31.50 C441.75 31.50 441.85 83 442.10 83Z" fill="#a6d6c0" stroke="#5fae8d" stroke-width="0.7" />
<path d="M442.60 83 C442.85 83 442.95 46.80 444.00 46.80 C445.05 46.80 445.15 83 445.40 83Z" fill="#a6d6c0" stroke="#5fae8d" stroke-width="0.7" />
<path d="M445.90 83 C446.15 83 446.25 62.00 447.30 62.00 C448.35 62.00 448.45 83 448.70 83Z" fill="#a6d6c0" stroke="#5fae8d" stroke-width="0.7" />
<path d="M449.00 83 C449.25 83 449.35 72.00 450.40 72.00 C451.45 72.00 451.55 83 451.80 83Z" fill="#a6d6c0" stroke="#5fae8d" stroke-width="0.7" />
<text x="386.50" y="170.70" font-size="14.8" font-weight="bold" fill="#000">LC-MS<tspan font-size="10" dy="-5.2">3</tspan></text>
<path d="M481 33.6 H804.5 V78" fill="none" stroke="#111" stroke-width="2.4" stroke-linejoin="miter"/>
<path d="M545.2 33.6 V78" fill="none" stroke="#111" stroke-width="2.4" />
<path d="M545.2 46 H655.4 V76.5" fill="none" stroke="#111" stroke-width="2.4" stroke-linejoin="miter"/>
<polygon points="545.20,87.50 540.10,77.30 550.30,77.30" fill="#111"/>
<polygon points="655.40,85.20 650.30,75.60 660.50,75.60" fill="#111"/>
<polygon points="804.50,87.20 799.40,77.00 809.60,77.00" fill="#111"/>
<g >
<g fill="#6b3f8b" stroke="#6b3f8b" stroke-width="2.2" stroke-linejoin="round"><polygon points="510.2,114.6 510.5,113.3 512.6,112.7 518.5,112.9 520.8,109.1 526.5,108.4 531.8,105.1 536.4,103.9 539.4,105.5 546.0,107.4 548.9,101.4 548.5,101.8 551.4,103.4 554.7,105.3 557.4,104.7 559.7,106.1 560.4,108.4 560.7,114.4 565.9,115.9 566.1,115.7 564.1,118.5 564.8,121.3 564.4,121.6 558.4,122.5 554.3,130.0 554.9,133.8 551.8,137.9 552.3,141.7 551.7,142.4 546.4,143.0 544.3,146.1 540.0,146.3 536.9,147.8 533.2,145.7 528.8,148.3 528.7,148.2 527.7,144.1 522.7,140.6 521.1,138.5 522.1,134.7 522.8,126.8 516.5,124.3 514.4,122.6 513.8,118.4 510.2,115.7"/><circle cx="509.7" cy="114.5" r="2.8"/><circle cx="510.5" cy="113.3" r="3.3"/><circle cx="512.7" cy="113.2" r="3.8"/><circle cx="518.4" cy="112.7" r="3.1"/><circle cx="520.9" cy="109.3" r="3.5"/><circle cx="524.0" cy="108.7" r="3.1"/><circle cx="526.3" cy="107.9" r="2.8"/><circle cx="529.1" cy="106.9" r="3.1"/><circle cx="531.8" cy="105.1" r="3.3"/><circle cx="535.0" cy="104.5" r="3.1"/><circle cx="536.4" cy="104.4" r="3.8"/><circle cx="539.5" cy="105.3" r="3.1"/><circle cx="546.2" cy="107.6" r="3.5"/><circle cx="547.1" cy="104.9" r="3.1"/><circle cx="548.5" cy="101.1" r="2.8"/><circle cx="548.5" cy="101.8" r="3.3"/><circle cx="551.2" cy="103.8" r="3.8"/><circle cx="554.7" cy="105.1" r="3.1"/><circle cx="557.4" cy="105.0" r="3.5"/><circle cx="560.1" cy="105.8" r="2.8"/><circle cx="560.4" cy="108.4" r="3.3"/><circle cx="560.3" cy="114.7" r="3.8"/><circle cx="566.0" cy="115.7" r="3.1"/><circle cx="565.9" cy="115.7" r="3.5"/><circle cx="564.6" cy="118.6" r="2.8"/><circle cx="564.8" cy="121.3" r="3.3"/><circle cx="564.2" cy="121.1" r="3.8"/><circle cx="558.5" cy="122.7" r="3.1"/><circle cx="557.0" cy="125.1" r="3.1"/><circle cx="554.1" cy="129.9" r="3.5"/><circle cx="555.3" cy="133.9" r="2.8"/><circle cx="551.8" cy="137.9" r="3.3"/><circle cx="551.8" cy="141.5" r="3.8"/><circle cx="551.8" cy="142.7" r="3.1"/><circle cx="546.3" cy="142.8" r="3.5"/><circle cx="544.5" cy="146.5" r="2.8"/><circle cx="540.0" cy="146.3" r="3.3"/><circle cx="536.9" cy="147.3" r="3.8"/><circle cx="533.3" cy="146.0" r="3.1"/><circle cx="528.7" cy="148.1" r="3.5"/><circle cx="528.3" cy="148.5" r="2.8"/><circle cx="527.7" cy="144.1" r="3.3"/><circle cx="525.4" cy="142.4" r="3.1"/><circle cx="523.0" cy="140.3" r="3.8"/><circle cx="520.9" cy="138.5" r="3.1"/><circle cx="522.4" cy="134.7" r="3.5"/><circle cx="522.4" cy="127.0" r="2.8"/><circle cx="516.5" cy="124.3" r="3.3"/><circle cx="514.8" cy="122.4" r="3.8"/><circle cx="513.6" cy="118.5" r="3.1"/><circle cx="510.4" cy="115.6" r="3.5"/></g>
<g fill="#986bb4" stroke="#986bb4" stroke-width="0.4"><polygon points="510.2,114.6 510.5,113.3 512.6,112.7 518.5,112.9 520.8,109.1 526.5,108.4 531.8,105.1 536.4,103.9 539.4,105.5 546.0,107.4 548.9,101.4 548.5,101.8 551.4,103.4 554.7,105.3 557.4,104.7 559.7,106.1 560.4,108.4 560.7,114.4 565.9,115.9 566.1,115.7 564.1,118.5 564.8,121.3 564.4,121.6 558.4,122.5 554.3,130.0 554.9,133.8 551.8,137.9 552.3,141.7 551.7,142.4 546.4,143.0 544.3,146.1 540.0,146.3 536.9,147.8 533.2,145.7 528.8,148.3 528.7,148.2 527.7,144.1 522.7,140.6 521.1,138.5 522.1,134.7 522.8,126.8 516.5,124.3 514.4,122.6 513.8,118.4 510.2,115.7"/><circle cx="509.7" cy="114.5" r="2.8"/><circle cx="510.5" cy="113.3" r="3.3"/><circle cx="512.7" cy="113.2" r="3.8"/><circle cx="518.4" cy="112.7" r="3.1"/><circle cx="520.9" cy="109.3" r="3.5"/><circle cx="524.0" cy="108.7" r="3.1"/><circle cx="526.3" cy="107.9" r="2.8"/><circle cx="529.1" cy="106.9" r="3.1"/><circle cx="531.8" cy="105.1" r="3.3"/><circle cx="535.0" cy="104.5" r="3.1"/><circle cx="536.4" cy="104.4" r="3.8"/><circle cx="539.5" cy="105.3" r="3.1"/><circle cx="546.2" cy="107.6" r="3.5"/><circle cx="547.1" cy="104.9" r="3.1"/><circle cx="548.5" cy="101.1" r="2.8"/><circle cx="548.5" cy="101.8" r="3.3"/><circle cx="551.2" cy="103.8" r="3.8"/><circle cx="554.7" cy="105.1" r="3.1"/><circle cx="557.4" cy="105.0" r="3.5"/><circle cx="560.1" cy="105.8" r="2.8"/><circle cx="560.4" cy="108.4" r="3.3"/><circle cx="560.3" cy="114.7" r="3.8"/><circle cx="566.0" cy="115.7" r="3.1"/><circle cx="565.9" cy="115.7" r="3.5"/><circle cx="564.6" cy="118.6" r="2.8"/><circle cx="564.8" cy="121.3" r="3.3"/><circle cx="564.2" cy="121.1" r="3.8"/><circle cx="558.5" cy="122.7" r="3.1"/><circle cx="557.0" cy="125.1" r="3.1"/><circle cx="554.1" cy="129.9" r="3.5"/><circle cx="555.3" cy="133.9" r="2.8"/><circle cx="551.8" cy="137.9" r="3.3"/><circle cx="551.8" cy="141.5" r="3.8"/><circle cx="551.8" cy="142.7" r="3.1"/><circle cx="546.3" cy="142.8" r="3.5"/><circle cx="544.5" cy="146.5" r="2.8"/><circle cx="540.0" cy="146.3" r="3.3"/><circle cx="536.9" cy="147.3" r="3.8"/><circle cx="533.3" cy="146.0" r="3.1"/><circle cx="528.7" cy="148.1" r="3.5"/><circle cx="528.3" cy="148.5" r="2.8"/><circle cx="527.7" cy="144.1" r="3.3"/><circle cx="525.4" cy="142.4" r="3.1"/><circle cx="523.0" cy="140.3" r="3.8"/><circle cx="520.9" cy="138.5" r="3.1"/><circle cx="522.4" cy="134.7" r="3.5"/><circle cx="522.4" cy="127.0" r="2.8"/><circle cx="516.5" cy="124.3" r="3.3"/><circle cx="514.8" cy="122.4" r="3.8"/><circle cx="513.6" cy="118.5" r="3.1"/><circle cx="510.4" cy="115.6" r="3.5"/></g>
<g opacity="0.6">
<circle cx="553" cy="110" r="8" fill="#8c5cab"/>
<circle cx="547" cy="117" r="6" fill="#8c5cab"/>
<circle cx="558" cy="114" r="5" fill="#8c5cab"/>
<circle cx="540" cy="128" r="5" fill="#9263b0"/>
<circle cx="543" cy="110" r="3" fill="#a985c4"/>
<circle cx="546" cy="118.5" r="3" fill="#a985c4"/>
<circle cx="552" cy="127" r="4.5" fill="#a985c4"/>
<circle cx="556" cy="120" r="3" fill="#a985c4"/>
<circle cx="549" cy="136" r="3.5" fill="#a985c4"/>
<circle cx="530" cy="120" r="7" fill="#9f73ba"/>
<circle cx="525" cy="136" r="5" fill="#a27abd"/>
<circle cx="538" cy="140" r="4" fill="#a27abd"/>
<circle cx="514" cy="116" r="4" fill="#a27abd"/>
<circle cx="563" cy="121" r="3" fill="#a985c4"/>
<circle cx="522" cy="112" r="3.5" fill="#a27abd"/>
<circle cx="533" cy="146" r="3" fill="#a27abd"/>
<ellipse cx="553.5" cy="124" rx="6" ry="2.8" transform="rotate(-45 553.5 124)" fill="#a985c4"/>
</g></g>
<g fill="#36805b" stroke="#36805b" stroke-width="2.2" stroke-linejoin="round"><polygon points="613.3,129.6 614.5,125.8 618.8,121.6 620.0,116.1 624.9,115.2 631.5,114.7 639.2,116.6 647.2,115.3 652.8,116.0 658.6,117.0 666.3,119.8 673.7,116.4 678.8,116.0 685.5,116.5 691.9,119.2 696.3,123.0 696.4,125.6 695.1,129.7 696.4,132.9 694.6,136.1 690.0,140.7 686.0,144.4 681.8,144.7 675.0,142.7 668.1,144.7 661.5,144.7 653.4,142.7 646.6,144.7 640.3,144.1 634.6,141.8 628.4,139.3 622.4,136.4 617.9,132.8"/><circle cx="612.8" cy="129.8" r="3.1"/><circle cx="614.1" cy="126.0" r="3.4"/><circle cx="614.5" cy="125.8" r="3.6"/><circle cx="616.8" cy="123.6" r="3.4"/><circle cx="619.3" cy="121.8" r="4.1"/><circle cx="619.9" cy="118.4" r="3.4"/><circle cx="619.8" cy="115.9" r="3.3"/><circle cx="623.6" cy="115.2" r="3.4"/><circle cx="624.9" cy="115.5" r="3.9"/><circle cx="628.7" cy="115.0" r="3.4"/><circle cx="631.5" cy="114.1" r="3.1"/><circle cx="635.2" cy="115.7" r="3.4"/><circle cx="639.2" cy="116.6" r="3.6"/><circle cx="643.0" cy="116.0" r="3.4"/><circle cx="647.2" cy="115.8" r="4.1"/><circle cx="650.4" cy="115.7" r="3.4"/><circle cx="652.8" cy="115.7" r="3.3"/><circle cx="656.0" cy="116.7" r="3.4"/><circle cx="658.5" cy="117.3" r="3.9"/><circle cx="661.7" cy="118.4" r="3.4"/><circle cx="666.3" cy="119.3" r="3.1"/><circle cx="669.5" cy="118.3" r="3.4"/><circle cx="673.7" cy="116.4" r="3.6"/><circle cx="676.9" cy="116.2" r="3.4"/><circle cx="678.8" cy="116.5" r="4.1"/><circle cx="682.6" cy="116.4" r="3.4"/><circle cx="685.6" cy="116.2" r="3.3"/><circle cx="689.3" cy="118.2" r="3.4"/><circle cx="691.8" cy="119.4" r="3.9"/><circle cx="694.7" cy="121.8" r="3.4"/><circle cx="696.8" cy="122.7" r="3.1"/><circle cx="696.4" cy="125.6" r="3.6"/><circle cx="694.6" cy="129.7" r="4.1"/><circle cx="696.7" cy="132.9" r="3.3"/><circle cx="695.0" cy="135.4" r="3.4"/><circle cx="694.4" cy="136.0" r="3.9"/><circle cx="692.0" cy="138.6" r="3.4"/><circle cx="690.4" cy="141.1" r="3.1"/><circle cx="687.4" cy="142.8" r="3.4"/><circle cx="686.0" cy="144.4" r="3.6"/><circle cx="682.8" cy="144.6" r="3.4"/><circle cx="681.9" cy="144.2" r="4.1"/><circle cx="678.6" cy="143.6" r="3.4"/><circle cx="675.0" cy="143.0" r="3.3"/><circle cx="671.9" cy="143.6" r="3.4"/><circle cx="668.1" cy="144.5" r="3.9"/><circle cx="664.3" cy="144.6" r="3.4"/><circle cx="661.5" cy="145.3" r="3.1"/><circle cx="657.7" cy="143.6" r="3.4"/><circle cx="653.4" cy="142.7" r="3.6"/><circle cx="650.2" cy="143.6" r="3.4"/><circle cx="646.6" cy="144.2" r="4.1"/><circle cx="642.8" cy="144.3" r="3.4"/><circle cx="640.3" cy="144.4" r="3.3"/><circle cx="637.2" cy="142.8" r="3.4"/><circle cx="634.7" cy="141.5" r="3.9"/><circle cx="631.5" cy="140.4" r="3.4"/><circle cx="628.1" cy="139.7" r="3.1"/><circle cx="625.2" cy="137.6" r="3.4"/><circle cx="622.4" cy="136.4" r="3.6"/><circle cx="620.0" cy="134.4" r="3.4"/><circle cx="618.3" cy="132.4" r="4.1"/><circle cx="615.1" cy="130.3" r="3.4"/></g>
<g fill="#60b48c" stroke="#60b48c" stroke-width="0.4"><polygon points="613.3,129.6 614.5,125.8 618.8,121.6 620.0,116.1 624.9,115.2 631.5,114.7 639.2,116.6 647.2,115.3 652.8,116.0 658.6,117.0 666.3,119.8 673.7,116.4 678.8,116.0 685.5,116.5 691.9,119.2 696.3,123.0 696.4,125.6 695.1,129.7 696.4,132.9 694.6,136.1 690.0,140.7 686.0,144.4 681.8,144.7 675.0,142.7 668.1,144.7 661.5,144.7 653.4,142.7 646.6,144.7 640.3,144.1 634.6,141.8 628.4,139.3 622.4,136.4 617.9,132.8"/><circle cx="612.8" cy="129.8" r="3.1"/><circle cx="614.1" cy="126.0" r="3.4"/><circle cx="614.5" cy="125.8" r="3.6"/><circle cx="616.8" cy="123.6" r="3.4"/><circle cx="619.3" cy="121.8" r="4.1"/><circle cx="619.9" cy="118.4" r="3.4"/><circle cx="619.8" cy="115.9" r="3.3"/><circle cx="623.6" cy="115.2" r="3.4"/><circle cx="624.9" cy="115.5" r="3.9"/><circle cx="628.7" cy="115.0" r="3.4"/><circle cx="631.5" cy="114.1" r="3.1"/><circle cx="635.2" cy="115.7" r="3.4"/><circle cx="639.2" cy="116.6" r="3.6"/><circle cx="643.0" cy="116.0" r="3.4"/><circle cx="647.2" cy="115.8" r="4.1"/><circle cx="650.4" cy="115.7" r="3.4"/><circle cx="652.8" cy="115.7" r="3.3"/><circle cx="656.0" cy="116.7" r="3.4"/><circle cx="658.5" cy="117.3" r="3.9"/><circle cx="661.7" cy="118.4" r="3.4"/><circle cx="666.3" cy="119.3" r="3.1"/><circle cx="669.5" cy="118.3" r="3.4"/><circle cx="673.7" cy="116.4" r="3.6"/><circle cx="676.9" cy="116.2" r="3.4"/><circle cx="678.8" cy="116.5" r="4.1"/><circle cx="682.6" cy="116.4" r="3.4"/><circle cx="685.6" cy="116.2" r="3.3"/><circle cx="689.3" cy="118.2" r="3.4"/><circle cx="691.8" cy="119.4" r="3.9"/><circle cx="694.7" cy="121.8" r="3.4"/><circle cx="696.8" cy="122.7" r="3.1"/><circle cx="696.4" cy="125.6" r="3.6"/><circle cx="694.6" cy="129.7" r="4.1"/><circle cx="696.7" cy="132.9" r="3.3"/><circle cx="695.0" cy="135.4" r="3.4"/><circle cx="694.4" cy="136.0" r="3.9"/><circle cx="692.0" cy="138.6" r="3.4"/><circle cx="690.4" cy="141.1" r="3.1"/><circle cx="687.4" cy="142.8" r="3.4"/><circle cx="686.0" cy="144.4" r="3.6"/><circle cx="682.8" cy="144.6" r="3.4"/><circle cx="681.9" cy="144.2" r="4.1"/><circle cx="678.6" cy="143.6" r="3.4"/><circle cx="675.0" cy="143.0" r="3.3"/><circle cx="671.9" cy="143.6" r="3.4"/><circle cx="668.1" cy="144.5" r="3.9"/><circle cx="664.3" cy="144.6" r="3.4"/><circle cx="661.5" cy="145.3" r="3.1"/><circle cx="657.7" cy="143.6" r="3.4"/><circle cx="653.4" cy="142.7" r="3.6"/><circle cx="650.2" cy="143.6" r="3.4"/><circle cx="646.6" cy="144.2" r="4.1"/><circle cx="642.8" cy="144.3" r="3.4"/><circle cx="640.3" cy="144.4" r="3.3"/><circle cx="637.2" cy="142.8" r="3.4"/><circle cx="634.7" cy="141.5" r="3.9"/><circle cx="631.5" cy="140.4" r="3.4"/><circle cx="628.1" cy="139.7" r="3.1"/><circle cx="625.2" cy="137.6" r="3.4"/><circle cx="622.4" cy="136.4" r="3.6"/><circle cx="620.0" cy="134.4" r="3.4"/><circle cx="618.3" cy="132.4" r="4.1"/><circle cx="615.1" cy="130.3" r="3.4"/></g>
<g opacity="0.55" fill="#8accac">
<circle cx="621.6" cy="118.2" r="5.7"/>
<circle cx="622.3" cy="132.2" r="5"/>
<circle cx="643.9" cy="129.7" r="2.5"/>
<circle cx="675" cy="118.2" r="5.5"/>
<circle cx="686.5" cy="117" r="4.5"/>
<circle cx="694.1" cy="122.5" r="5"/>
<circle cx="683.9" cy="141.1" r="4.5"/>
<circle cx="661" cy="142.4" r="5"/>
<circle cx="629" cy="116" r="4.5"/>
<circle cx="692" cy="134" r="3.5"/>
<circle cx="657" cy="115.5" r="2"/>
<ellipse cx="635" cy="127" rx="4" ry="8" transform="rotate(-20 635 127)"/>
<ellipse cx="635" cy="141" rx="7" ry="4" transform="rotate(30 635 141)"/>
<ellipse cx="647" cy="117.5" rx="6" ry="4" transform="rotate(0 647 117.5)"/>
<ellipse cx="650" cy="141" rx="3.5" ry="6" transform="rotate(20 650 141)"/>
<ellipse cx="661.7" cy="124" rx="1.5" ry="4" transform="rotate(25 661.7 124)"/>
<ellipse cx="671.2" cy="134.8" rx="10" ry="5" transform="rotate(-35 671.2 134.8)"/>
</g>
<line x1="665.30" y1="105.00" x2="665.30" y2="115.80" stroke="#777" stroke-width="1.4" stroke-linecap="butt" />
<circle cx="665.5" cy="97.4" r="8.3" fill="#c2328f" stroke="#a3277a" stroke-width="0.8"/>
<text x="665.50" y="100.00" font-size="7" font-weight="normal" fill="#fff" text-anchor="middle" textLength="14.00" lengthAdjust="spacingAndGlyphs">PO4</text>
<g fill="#6b3f8b" stroke="#6b3f8b" stroke-width="2.2" stroke-linejoin="round"><polygon points="770.8,105.6 771.3,104.1 773.6,103.3 779.1,104.3 783.5,102.7 789.8,103.3 795.5,101.1 800.5,100.1 803.8,101.5 810.1,106.9 815.6,101.4 816.7,101.1 819.0,102.8 822.5,107.0 826.2,106.5 828.6,109.0 828.7,112.3 828.0,118.2 832.4,120.9 832.9,121.3 830.8,124.1 829.8,126.4 828.0,127.5 821.7,128.0 817.2,134.5 815.6,138.0 811.2,141.5 810.4,145.4 808.3,146.2 802.6,146.3 799.3,149.5 797.4,149.3 793.5,147.7 790.4,149.2 788.4,147.9 784.9,147.3 782.6,147.1 781.8,144.1 779.1,139.8 777.0,135.8 777.8,132.3 780.6,125.3 778.0,119.1 774.4,117.1 773.3,114.9 773.8,110.4"/><circle cx="770.3" cy="105.7" r="2.8"/><circle cx="771.3" cy="104.1" r="3.3"/><circle cx="773.6" cy="103.8" r="3.8"/><circle cx="776.4" cy="103.9" r="3.1"/><circle cx="779.1" cy="104.0" r="3.1"/><circle cx="783.5" cy="102.9" r="3.5"/><circle cx="786.6" cy="103.1" r="3.1"/><circle cx="789.7" cy="102.8" r="2.8"/><circle cx="792.4" cy="102.3" r="3.1"/><circle cx="795.5" cy="101.1" r="3.3"/><circle cx="798.7" cy="100.6" r="3.1"/><circle cx="800.4" cy="100.6" r="3.8"/><circle cx="803.1" cy="101.2" r="3.1"/><circle cx="803.9" cy="101.3" r="3.1"/><circle cx="805.7" cy="103.9" r="3.1"/><circle cx="810.1" cy="107.1" r="3.5"/><circle cx="811.7" cy="104.7" r="3.1"/><circle cx="815.3" cy="101.0" r="2.8"/><circle cx="816.7" cy="101.1" r="3.3"/><circle cx="818.7" cy="103.2" r="3.8"/><circle cx="822.6" cy="106.8" r="3.1"/><circle cx="826.1" cy="106.8" r="3.5"/><circle cx="828.2" cy="108.7" r="3.1"/><circle cx="829.0" cy="108.8" r="2.8"/><circle cx="828.7" cy="112.3" r="3.3"/><circle cx="827.6" cy="118.4" r="3.8"/><circle cx="832.6" cy="120.7" r="3.1"/><circle cx="832.7" cy="121.3" r="3.5"/><circle cx="831.2" cy="124.4" r="2.8"/><circle cx="829.8" cy="126.4" r="3.3"/><circle cx="827.9" cy="127.0" r="3.8"/><circle cx="821.8" cy="128.2" r="3.1"/><circle cx="820.0" cy="130.5" r="3.1"/><circle cx="817.0" cy="134.4" r="3.5"/><circle cx="816.0" cy="138.4" r="2.8"/><circle cx="811.2" cy="141.5" r="3.3"/><circle cx="810.0" cy="145.0" r="3.8"/><circle cx="808.3" cy="146.4" r="3.1"/><circle cx="802.5" cy="146.1" r="3.5"/><circle cx="799.5" cy="150.0" r="2.8"/><circle cx="797.4" cy="149.3" r="3.3"/><circle cx="793.5" cy="147.2" r="3.8"/><circle cx="790.4" cy="149.4" r="3.1"/><circle cx="788.5" cy="147.6" r="3.5"/><circle cx="784.8" cy="147.8" r="2.8"/><circle cx="782.6" cy="147.1" r="3.3"/><circle cx="782.2" cy="143.9" r="3.8"/><circle cx="778.9" cy="139.9" r="3.1"/><circle cx="777.9" cy="137.1" r="3.1"/><circle cx="777.2" cy="135.8" r="3.5"/><circle cx="777.4" cy="132.2" r="2.8"/><circle cx="779.2" cy="129.2" r="3.1"/><circle cx="780.6" cy="125.3" r="3.3"/><circle cx="778.3" cy="118.8" r="3.8"/><circle cx="774.2" cy="117.3" r="3.1"/><circle cx="773.6" cy="114.9" r="3.5"/><circle cx="773.3" cy="110.5" r="2.8"/><circle cx="772.3" cy="107.8" r="3.1"/></g>
<g fill="#986bb4" stroke="#986bb4" stroke-width="0.4"><polygon points="770.8,105.6 771.3,104.1 773.6,103.3 779.1,104.3 783.5,102.7 789.8,103.3 795.5,101.1 800.5,100.1 803.8,101.5 810.1,106.9 815.6,101.4 816.7,101.1 819.0,102.8 822.5,107.0 826.2,106.5 828.6,109.0 828.7,112.3 828.0,118.2 832.4,120.9 832.9,121.3 830.8,124.1 829.8,126.4 828.0,127.5 821.7,128.0 817.2,134.5 815.6,138.0 811.2,141.5 810.4,145.4 808.3,146.2 802.6,146.3 799.3,149.5 797.4,149.3 793.5,147.7 790.4,149.2 788.4,147.9 784.9,147.3 782.6,147.1 781.8,144.1 779.1,139.8 777.0,135.8 777.8,132.3 780.6,125.3 778.0,119.1 774.4,117.1 773.3,114.9 773.8,110.4"/><circle cx="770.3" cy="105.7" r="2.8"/><circle cx="771.3" cy="104.1" r="3.3"/><circle cx="773.6" cy="103.8" r="3.8"/><circle cx="776.4" cy="103.9" r="3.1"/><circle cx="779.1" cy="104.0" r="3.1"/><circle cx="783.5" cy="102.9" r="3.5"/><circle cx="786.6" cy="103.1" r="3.1"/><circle cx="789.7" cy="102.8" r="2.8"/><circle cx="792.4" cy="102.3" r="3.1"/><circle cx="795.5" cy="101.1" r="3.3"/><circle cx="798.7" cy="100.6" r="3.1"/><circle cx="800.4" cy="100.6" r="3.8"/><circle cx="803.1" cy="101.2" r="3.1"/><circle cx="803.9" cy="101.3" r="3.1"/><circle cx="805.7" cy="103.9" r="3.1"/><circle cx="810.1" cy="107.1" r="3.5"/><circle cx="811.7" cy="104.7" r="3.1"/><circle cx="815.3" cy="101.0" r="2.8"/><circle cx="816.7" cy="101.1" r="3.3"/><circle cx="818.7" cy="103.2" r="3.8"/><circle cx="822.6" cy="106.8" r="3.1"/><circle cx="826.1" cy="106.8" r="3.5"/><circle cx="828.2" cy="108.7" r="3.1"/><circle cx="829.0" cy="108.8" r="2.8"/><circle cx="828.7" cy="112.3" r="3.3"/><circle cx="827.6" cy="118.4" r="3.8"/><circle cx="832.6" cy="120.7" r="3.1"/><circle cx="832.7" cy="121.3" r="3.5"/><circle cx="831.2" cy="124.4" r="2.8"/><circle cx="829.8" cy="126.4" r="3.3"/><circle cx="827.9" cy="127.0" r="3.8"/><circle cx="821.8" cy="128.2" r="3.1"/><circle cx="820.0" cy="130.5" r="3.1"/><circle cx="817.0" cy="134.4" r="3.5"/><circle cx="816.0" cy="138.4" r="2.8"/><circle cx="811.2" cy="141.5" r="3.3"/><circle cx="810.0" cy="145.0" r="3.8"/><circle cx="808.3" cy="146.4" r="3.1"/><circle cx="802.5" cy="146.1" r="3.5"/><circle cx="799.5" cy="150.0" r="2.8"/><circle cx="797.4" cy="149.3" r="3.3"/><circle cx="793.5" cy="147.2" r="3.8"/><circle cx="790.4" cy="149.4" r="3.1"/><circle cx="788.5" cy="147.6" r="3.5"/><circle cx="784.8" cy="147.8" r="2.8"/><circle cx="782.6" cy="147.1" r="3.3"/><circle cx="782.2" cy="143.9" r="3.8"/><circle cx="778.9" cy="139.9" r="3.1"/><circle cx="777.9" cy="137.1" r="3.1"/><circle cx="777.2" cy="135.8" r="3.5"/><circle cx="777.4" cy="132.2" r="2.8"/><circle cx="779.2" cy="129.2" r="3.1"/><circle cx="780.6" cy="125.3" r="3.3"/><circle cx="778.3" cy="118.8" r="3.8"/><circle cx="774.2" cy="117.3" r="3.1"/><circle cx="773.6" cy="114.9" r="3.5"/><circle cx="773.3" cy="110.5" r="2.8"/><circle cx="772.3" cy="107.8" r="3.1"/></g>
<g opacity="0.6">
<circle cx="823" cy="111" r="8" fill="#8c5cab"/>
<circle cx="816" cy="118" r="6" fill="#8c5cab"/>
<circle cx="828" cy="116" r="5" fill="#8c5cab"/>
<circle cx="806" cy="128" r="5" fill="#9263b0"/>
<circle cx="808" cy="108" r="3" fill="#a985c4"/>
<circle cx="809" cy="120" r="3" fill="#a985c4"/>
<circle cx="809" cy="138.5" r="4" fill="#a985c4"/>
<circle cx="826" cy="124" r="3" fill="#a985c4"/>
<circle cx="795" cy="118" r="7" fill="#9f73ba"/>
<circle cx="786" cy="138" r="5" fill="#a27abd"/>
<circle cx="799" cy="144" r="4" fill="#a27abd"/>
<circle cx="775" cy="108" r="4.5" fill="#a27abd"/>
<circle cx="784" cy="105" r="3.5" fill="#a27abd"/>
<circle cx="790" cy="147" r="3" fill="#a27abd"/>
<circle cx="781" cy="122" r="4" fill="#a27abd"/>
<ellipse cx="819.5" cy="124.5" rx="6.5" ry="3" transform="rotate(-40 819.5 124.5)" fill="#a985c4"/>
</g>
<circle cx="786" cy="91.1" r="7.7" fill="#e0742c" stroke="#c4601f" stroke-width="0.8"/>
<text x="786.00" y="93.70" font-size="7.4" font-weight="normal" fill="#fff" text-anchor="middle" textLength="10.60" lengthAdjust="spacingAndGlyphs">Me</text>
<text x="470.70" y="170.70" font-size="14.8" font-weight="bold" fill="#000" textLength="105.20" lengthAdjust="spacingAndGlyphs">Total proteome</text>
<text x="589.30" y="170.70" font-size="14.8" font-weight="bold" fill="#000" textLength="130.70" lengthAdjust="spacingAndGlyphs">Phosphoproteome</text>
<text x="740.40" y="170.70" font-size="14.8" font-weight="bold" fill="#000" textLength="114.60" lengthAdjust="spacingAndGlyphs">Methylproteome</text>
<text x="7.00" y="223.20" font-size="18.5" font-weight="bold" fill="#000">B</text>
<text x="202.50" y="220.00" font-size="16" font-weight="bold" fill="#000" textLength="73.00" lengthAdjust="spacingAndGlyphs">Proteome</text>
<line x1="202.00" y1="222.90" x2="276.00" y2="222.90" stroke="#000" stroke-width="2.0" stroke-linecap="butt" />
<text x="25.30" y="420.60" font-size="15.8" font-weight="bold" fill="#000" textLength="152.50" lengthAdjust="spacingAndGlyphs" transform="rotate(-90 25.30 420.60)">Pathway enrichment</text>
<rect x="261.25" y="237.55" width="82.75" height="6.30" fill="#3f55b5" stroke="#000" stroke-width="1.5" />
<line x1="248.50" y1="240.70" x2="256.00" y2="240.70" stroke="#000" stroke-width="1.5" stroke-linecap="butt" />
<text x="246.90" y="244.05" font-size="11.0" font-weight="bold" fill="#000" text-anchor="end">Membrane Trafficking</text>
<rect x="265.75" y="249.55" width="78.25" height="6.30" fill="#3f55b5" stroke="#000" stroke-width="1.5" />
<line x1="248.50" y1="252.70" x2="256.00" y2="252.70" stroke="#000" stroke-width="1.5" stroke-linecap="butt" />
<text x="246.90" y="256.05" font-size="11.0" font-weight="bold" fill="#000" text-anchor="end">TCA cycle</text>
<rect x="299.25" y="261.55" width="44.75" height="6.30" fill="#3f55b5" stroke="#000" stroke-width="1.5" />
<line x1="248.50" y1="264.70" x2="256.00" y2="264.70" stroke="#000" stroke-width="1.5" stroke-linecap="butt" />
<text x="246.90" y="268.05" font-size="11.0" font-weight="bold" fill="#000" text-anchor="end">Nervous system development</text>
<rect x="299.25" y="273.55" width="44.75" height="6.30" fill="#3f55b5" stroke="#000" stroke-width="1.5" />
<line x1="248.50" y1="276.70" x2="256.00" y2="276.70" stroke="#000" stroke-width="1.5" stroke-linecap="butt" />
<text x="246.90" y="280.05" font-size="11.0" font-weight="bold" fill="#000" text-anchor="end">Clathrin-mediated endocytosis</text>
<rect x="303.75" y="285.55" width="40.25" height="6.30" fill="#3f55b5" stroke="#000" stroke-width="1.5" />
<line x1="248.50" y1="288.70" x2="256.00" y2="288.70" stroke="#000" stroke-width="1.5" stroke-linecap="butt" />
<text x="246.90" y="292.05" font-size="11.0" font-weight="bold" fill="#000" text-anchor="end">Signal Transduction</text>
<rect x="317.50" y="297.55" width="26.50" height="6.30" fill="#3f55b5" stroke="#000" stroke-width="1.5" />
<line x1="248.50" y1="300.70" x2="256.00" y2="300.70" stroke="#000" stroke-width="1.5" stroke-linecap="butt" />
<text x="246.90" y="304.05" font-size="11.0" font-weight="bold" fill="#000" text-anchor="end">TP53 Regulates Metabolic Genes</text>
<rect x="330.00" y="309.55" width="14.00" height="6.30" fill="#3f55b5" stroke="#000" stroke-width="1.5" />
<line x1="248.50" y1="312.70" x2="256.00" y2="312.70" stroke="#000" stroke-width="1.5" stroke-linecap="butt" />
<text x="246.90" y="316.05" font-size="11.0" font-weight="bold" fill="#000" text-anchor="end">Phospholipid metabolism</text>
<rect x="331.00" y="321.55" width="13.00" height="6.30" fill="#3f55b5" stroke="#000" stroke-width="1.5" />
<line x1="248.50" y1="324.70" x2="256.00" y2="324.70" stroke="#000" stroke-width="1.5" stroke-linecap="butt" />
<text x="246.90" y="328.05" font-size="11.0" font-weight="bold" fill="#000" text-anchor="end">Selective autophagy</text>
<rect x="331.75" y="333.55" width="12.25" height="6.30" fill="#3f55b5" stroke="#000" stroke-width="1.5" />
<line x1="248.50" y1="336.70" x2="256.00" y2="336.70" stroke="#000" stroke-width="1.5" stroke-linecap="butt" />
<text x="246.90" y="340.05" font-size="11.0" font-weight="bold" fill="#000" text-anchor="end">Mitochondrial protein import</text>
<rect x="344.00" y="345.55" width="7.15" height="6.30" fill="#f44a4a" stroke="#000" stroke-width="1.5" />
<line x1="248.50" y1="348.70" x2="256.00" y2="348.70" stroke="#000" stroke-width="1.5" stroke-linecap="butt" />
<text x="246.90" y="352.05" font-size="11.0" font-weight="bold" fill="#000" text-anchor="end">Positive regulation of gene expression</text>
<rect x="344.00" y="357.55" width="8.00" height="6.30" fill="#f44a4a" stroke="#000" stroke-width="1.5" />
<line x1="248.50" y1="360.70" x2="256.00" y2="360.70" stroke="#000" stroke-width="1.5" stroke-linecap="butt" />
<text x="246.90" y="364.05" font-size="11.0" font-weight="bold" fill="#000" text-anchor="end">I-Kappa Kinase/NF-kappaB signaling</text>
<rect x="344.00" y="369.55" width="8.75" height="6.30" fill="#f44a4a" stroke="#000" stroke-width="1.5" />
<line x1="248.50" y1="372.70" x2="256.00" y2="372.70" stroke="#000" stroke-width="1.5" stroke-linecap="butt" />
<text x="246.90" y="376.05" font-size="11.0" font-weight="bold" fill="#000" text-anchor="end">Negative regulation of apoptosis</text>
<rect x="344.00" y="381.55" width="10.00" height="6.30" fill="#f44a4a" stroke="#000" stroke-width="1.5" />
<line x1="248.50" y1="384.70" x2="256.00" y2="384.70" stroke="#000" stroke-width="1.5" stroke-linecap="butt" />
<text x="246.90" y="388.05" font-size="11.0" font-weight="bold" fill="#000" text-anchor="end">Methionine salvage pathway</text>
<rect x="344.00" y="393.55" width="10.50" height="6.30" fill="#f44a4a" stroke="#000" stroke-width="1.5" />
<line x1="248.50" y1="396.70" x2="256.00" y2="396.70" stroke="#000" stroke-width="1.5" stroke-linecap="butt" />
<text x="246.90" y="400.05" font-size="11.0" font-weight="bold" fill="#000" text-anchor="end">Oncogenic MAPK signaling</text>
<rect x="344.00" y="405.55" width="11.50" height="6.30" fill="#f44a4a" stroke="#000" stroke-width="1.5" />
<line x1="248.50" y1="408.70" x2="256.00" y2="408.70" stroke="#000" stroke-width="1.5" stroke-linecap="butt" />
<text x="246.90" y="412.05" font-size="11.0" font-weight="bold" fill="#000" text-anchor="end">Positive regulation of GTPase activity</text>
<rect x="344.00" y="417.55" width="13.75" height="6.30" fill="#f44a4a" stroke="#000" stroke-width="1.5" />
<line x1="248.50" y1="420.70" x2="256.00" y2="420.70" stroke="#000" stroke-width="1.5" stroke-linecap="butt" />
<text x="246.90" y="424.05" font-size="11.0" font-weight="bold" fill="#000" text-anchor="end">Signaling by Receptor Tyrosine Kinases</text>
<rect x="344.00" y="429.55" width="18.75" height="6.30" fill="#f44a4a" stroke="#000" stroke-width="1.5" />
<line x1="248.50" y1="432.70" x2="256.00" y2="432.70" stroke="#000" stroke-width="1.5" stroke-linecap="butt" />
<text x="246.90" y="436.05" font-size="11.0" font-weight="bold" fill="#000" text-anchor="end">Translation</text>
<rect x="344.00" y="441.55" width="37.00" height="6.30" fill="#f44a4a" stroke="#000" stroke-width="1.5" />
<line x1="248.50" y1="444.70" x2="256.00" y2="444.70" stroke="#000" stroke-width="1.5" stroke-linecap="butt" />
<text x="246.90" y="448.05" font-size="11.0" font-weight="bold" fill="#000" text-anchor="end">Cell adhesion</text>
<line x1="256.00" y1="232.00" x2="256.00" y2="452.75" stroke="#000" stroke-width="1.5" stroke-linecap="butt" />
<line x1="344.00" y1="232.00" x2="344.00" y2="452.00" stroke="#000" stroke-width="1.5" stroke-linecap="butt" />
<line x1="255.25" y1="452.00" x2="403.55" y2="452.00" stroke="#000" stroke-width="1.5" stroke-linecap="butt" />
<line x1="256.00" y1="452.00" x2="256.00" y2="459.50" stroke="#000" stroke-width="1.5" stroke-linecap="butt" />
<text x="256.00" y="478.00" font-size="15.8" font-weight="bold" fill="#000" text-anchor="middle">–15</text>
<line x1="285.40" y1="452.00" x2="285.40" y2="459.50" stroke="#000" stroke-width="1.5" stroke-linecap="butt" />
<text x="285.40" y="478.00" font-size="15.8" font-weight="bold" fill="#000" text-anchor="middle">–10</text>
<line x1="314.70" y1="452.00" x2="314.70" y2="459.50" stroke="#000" stroke-width="1.5" stroke-linecap="butt" />
<text x="314.70" y="478.00" font-size="15.8" font-weight="bold" fill="#000" text-anchor="middle">–5</text>
<line x1="344.00" y1="452.00" x2="344.00" y2="459.50" stroke="#000" stroke-width="1.5" stroke-linecap="butt" />
<text x="344.00" y="478.00" font-size="15.8" font-weight="bold" fill="#000" text-anchor="middle">0</text>
<line x1="373.40" y1="452.00" x2="373.40" y2="459.50" stroke="#000" stroke-width="1.5" stroke-linecap="butt" />
<text x="373.40" y="478.00" font-size="15.8" font-weight="bold" fill="#000" text-anchor="middle">5</text>
<line x1="402.80" y1="452.00" x2="402.80" y2="459.50" stroke="#000" stroke-width="1.5" stroke-linecap="butt" />
<text x="402.80" y="478.00" font-size="15.8" font-weight="bold" fill="#000" text-anchor="middle">10</text>
<text x="326.30" y="509.00" font-size="16" font-weight="bold" fill="#000" text-anchor="middle" textLength="122.50" lengthAdjust="spacingAndGlyphs">–Log10(P value)</text>
<text x="482.00" y="223.60" font-size="18.5" font-weight="bold" fill="#000">C</text>
<text x="655.30" y="223.10" font-size="16" font-weight="bold" fill="#000" textLength="140.70" lengthAdjust="spacingAndGlyphs">Phosphoproteome</text>
<line x1="654.70" y1="225.20" x2="795.50" y2="225.20" stroke="#9a9a9a" stroke-width="1.7" stroke-linecap="butt" />
<line x1="656.50" y1="227.00" x2="794.50" y2="227.00" stroke="#000" stroke-width="1.6" stroke-linecap="butt" />
<text x="412.20" y="430.50" font-size="15.8" font-weight="bold" fill="#000" textLength="152.50" lengthAdjust="spacingAndGlyphs" transform="rotate(-90 412.20 430.50)">Pathway enrichment</text>
<rect x="748.20" y="269.85" width="45.80" height="8.50" fill="#3f55b5" stroke="#000" stroke-width="1.9" />
<line x1="724.05" y1="274.10" x2="731.75" y2="274.10" stroke="#000" stroke-width="1.9" stroke-linecap="butt" />
<text x="721.50" y="277.70" font-size="13.9" font-weight="bold" fill="#000" text-anchor="end" textLength="142.50" lengthAdjust="spacingAndGlyphs">Membrane Trafficking</text>
<rect x="761.20" y="286.32" width="32.80" height="8.50" fill="#3f55b5" stroke="#000" stroke-width="1.9" />
<line x1="724.05" y1="290.57" x2="731.75" y2="290.57" stroke="#000" stroke-width="1.9" stroke-linecap="butt" />
<text x="721.50" y="294.17" font-size="13.9" font-weight="bold" fill="#000" text-anchor="end" textLength="175.90" lengthAdjust="spacingAndGlyphs">G-protein mediated events</text>
<rect x="769.20" y="302.79" width="24.80" height="8.50" fill="#3f55b5" stroke="#000" stroke-width="1.9" />
<line x1="724.05" y1="307.04" x2="731.75" y2="307.04" stroke="#000" stroke-width="1.9" stroke-linecap="butt" />
<text x="721.50" y="310.64" font-size="13.9" font-weight="bold" fill="#000" text-anchor="end" textLength="216.60" lengthAdjust="spacingAndGlyphs">Golgi-to-ER retrograde transport</text>
<rect x="771.20" y="319.26" width="22.80" height="8.50" fill="#3f55b5" stroke="#000" stroke-width="1.9" />
<line x1="724.05" y1="323.51" x2="731.75" y2="323.51" stroke="#000" stroke-width="1.9" stroke-linecap="butt" />
<text x="721.50" y="327.11" font-size="13.9" font-weight="bold" fill="#000" text-anchor="end" textLength="132.50" lengthAdjust="spacingAndGlyphs">Signal Transduction</text>
<rect x="779.20" y="335.73" width="14.80" height="8.50" fill="#3f55b5" stroke="#000" stroke-width="1.9" />
<line x1="724.05" y1="339.98" x2="731.75" y2="339.98" stroke="#000" stroke-width="1.9" stroke-linecap="butt" />
<text x="721.50" y="343.58" font-size="13.9" font-weight="bold" fill="#000" text-anchor="end" textLength="193.40" lengthAdjust="spacingAndGlyphs">Transport of small molecules</text>
<rect x="781.95" y="352.20" width="12.05" height="8.50" fill="#3f55b5" stroke="#000" stroke-width="1.9" />
<line x1="724.05" y1="356.45" x2="731.75" y2="356.45" stroke="#000" stroke-width="1.9" stroke-linecap="butt" />
<text x="721.50" y="360.05" font-size="13.9" font-weight="bold" fill="#000" text-anchor="end" textLength="302.80" lengthAdjust="spacingAndGlyphs">Intracellular signaling by second messengers</text>
<rect x="794.00" y="368.67" width="12.05" height="8.50" fill="#f44a4a" stroke="#000" stroke-width="1.9" />
<line x1="724.05" y1="372.92" x2="731.75" y2="372.92" stroke="#000" stroke-width="1.9" stroke-linecap="butt" />
<text x="721.50" y="376.52" font-size="13.9" font-weight="bold" fill="#000" text-anchor="end" textLength="66.30" lengthAdjust="spacingAndGlyphs">Cell Cycle</text>
<rect x="794.00" y="385.14" width="14.80" height="8.50" fill="#f44a4a" stroke="#000" stroke-width="1.9" />
<line x1="724.05" y1="389.39" x2="731.75" y2="389.39" stroke="#000" stroke-width="1.9" stroke-linecap="butt" />
<text x="721.50" y="392.99" font-size="13.9" font-weight="bold" fill="#000" text-anchor="end" textLength="240.90" lengthAdjust="spacingAndGlyphs">Cap-dependent Translation Initiation</text>
<rect x="794.00" y="401.61" width="23.05" height="8.50" fill="#f44a4a" stroke="#000" stroke-width="1.9" />
<line x1="724.05" y1="405.86" x2="731.75" y2="405.86" stroke="#000" stroke-width="1.9" stroke-linecap="butt" />
<text x="721.50" y="409.46" font-size="13.9" font-weight="bold" fill="#000" text-anchor="end" textLength="182.10" lengthAdjust="spacingAndGlyphs">Oncogenic MAPK signaling</text>
<rect x="794.00" y="418.08" width="24.30" height="8.50" fill="#f44a4a" stroke="#000" stroke-width="1.9" />
<line x1="724.05" y1="422.33" x2="731.75" y2="422.33" stroke="#000" stroke-width="1.9" stroke-linecap="butt" />
<text x="721.50" y="425.93" font-size="13.9" font-weight="bold" fill="#000" text-anchor="end" textLength="177.20" lengthAdjust="spacingAndGlyphs">Signaling by Rho GTPases</text>
<rect x="794.00" y="434.55" width="37.05" height="8.50" fill="#f44a4a" stroke="#000" stroke-width="1.9" />
<line x1="724.05" y1="438.80" x2="731.75" y2="438.80" stroke="#000" stroke-width="1.9" stroke-linecap="butt" />
<text x="721.50" y="442.40" font-size="13.9" font-weight="bold" fill="#000" text-anchor="end" textLength="100.90" lengthAdjust="spacingAndGlyphs">mRNA Splicing</text>
<line x1="731.75" y1="262.00" x2="731.75" y2="450.20" stroke="#000" stroke-width="1.9" stroke-linecap="butt" />
<line x1="794.00" y1="262.00" x2="794.00" y2="449.25" stroke="#000" stroke-width="1.9" stroke-linecap="butt" />
<line x1="730.80" y1="449.25" x2="857.95" y2="449.25" stroke="#000" stroke-width="1.9" stroke-linecap="butt" />
<line x1="731.75" y1="449.25" x2="731.75" y2="456.95" stroke="#000" stroke-width="1.9" stroke-linecap="butt" />
<text x="731.75" y="478.00" font-size="15.8" font-weight="bold" fill="#000" text-anchor="middle">–10</text>
<line x1="763.00" y1="449.25" x2="763.00" y2="456.95" stroke="#000" stroke-width="1.9" stroke-linecap="butt" />
<text x="763.00" y="478.00" font-size="15.8" font-weight="bold" fill="#000" text-anchor="middle">–5</text>
<line x1="794.00" y1="449.25" x2="794.00" y2="456.95" stroke="#000" stroke-width="1.9" stroke-linecap="butt" />
<text x="794.00" y="478.00" font-size="15.8" font-weight="bold" fill="#000" text-anchor="middle">0</text>
<line x1="825.40" y1="449.25" x2="825.40" y2="456.95" stroke="#000" stroke-width="1.9" stroke-linecap="butt" />
<text x="825.40" y="478.00" font-size="15.8" font-weight="bold" fill="#000" text-anchor="middle">5</text>
<line x1="857.00" y1="449.25" x2="857.00" y2="456.95" stroke="#000" stroke-width="1.9" stroke-linecap="butt" />
<text x="857.00" y="478.00" font-size="15.8" font-weight="bold" fill="#000" text-anchor="middle">10</text>
<text x="793.00" y="500.70" font-size="16" font-weight="bold" fill="#000" text-anchor="middle" textLength="123.00" lengthAdjust="spacingAndGlyphs">–Log10(P value)</text>
<text x="7.00" y="531.20" font-size="18.5" font-weight="bold" fill="#000">D</text>
<text x="120.00" y="535.90" font-size="16" font-weight="bold" fill="#000" textLength="199.20" lengthAdjust="spacingAndGlyphs">Phospoproteome -specific</text>
<line x1="115.60" y1="538.40" x2="321.00" y2="538.40" stroke="#000" stroke-width="1.1" stroke-linecap="butt" />
<line x1="115.60" y1="540.70" x2="321.00" y2="540.70" stroke="#000" stroke-width="1.2" stroke-linecap="butt" />
<text x="37.80" y="727.50" font-size="15.8" font-weight="bold" fill="#000" textLength="152.50" lengthAdjust="spacingAndGlyphs" transform="rotate(-90 37.80 727.50)">Pathway enrichment</text>
<rect x="308.25" y="555.85" width="44.75" height="6.30" fill="#3f55b5" stroke="#000" stroke-width="1.5" />
<line x1="278.30" y1="559.00" x2="286.50" y2="559.00" stroke="#000" stroke-width="1.5" stroke-linecap="butt" />
<text x="276.70" y="561.50" font-size="11.55" font-weight="bold" fill="#000" text-anchor="end">Membrane Trafficking</text>
<rect x="310.25" y="568.09" width="42.75" height="6.30" fill="#3f55b5" stroke="#000" stroke-width="1.5" />
<line x1="278.30" y1="571.24" x2="286.50" y2="571.24" stroke="#000" stroke-width="1.5" stroke-linecap="butt" />
<text x="276.70" y="573.74" font-size="11.55" font-weight="bold" fill="#000" text-anchor="end">Vesicle-mediated transport</text>
<rect x="312.25" y="580.33" width="40.75" height="6.30" fill="#3f55b5" stroke="#000" stroke-width="1.5" />
<line x1="278.30" y1="583.48" x2="286.50" y2="583.48" stroke="#000" stroke-width="1.5" stroke-linecap="butt" />
<text x="276.70" y="585.98" font-size="11.55" font-weight="bold" fill="#000" text-anchor="end">Golgi-to-ER retrograde transport</text>
<rect x="318.00" y="592.57" width="35.00" height="6.30" fill="#3f55b5" stroke="#000" stroke-width="1.5" />
<line x1="278.30" y1="595.72" x2="286.50" y2="595.72" stroke="#000" stroke-width="1.5" stroke-linecap="butt" />
<text x="276.70" y="598.22" font-size="11.55" font-weight="bold" fill="#000" text-anchor="end">Apoptosis</text>
<rect x="319.25" y="604.81" width="33.75" height="6.30" fill="#3f55b5" stroke="#000" stroke-width="1.5" />
<line x1="278.30" y1="607.96" x2="286.50" y2="607.96" stroke="#000" stroke-width="1.5" stroke-linecap="butt" />
<text x="276.70" y="610.46" font-size="11.55" font-weight="bold" fill="#000" text-anchor="end">G2/M Transition</text>
<rect x="323.50" y="617.05" width="29.50" height="6.30" fill="#3f55b5" stroke="#000" stroke-width="1.5" />
<line x1="278.30" y1="620.20" x2="286.50" y2="620.20" stroke="#000" stroke-width="1.5" stroke-linecap="butt" />
<text x="276.70" y="622.70" font-size="11.55" font-weight="bold" fill="#000" text-anchor="end">Immune System</text>
<rect x="327.50" y="629.29" width="25.50" height="6.30" fill="#3f55b5" stroke="#000" stroke-width="1.5" />
<line x1="278.30" y1="632.44" x2="286.50" y2="632.44" stroke="#000" stroke-width="1.5" stroke-linecap="butt" />
<text x="276.70" y="634.94" font-size="11.55" font-weight="bold" fill="#000" text-anchor="end">Cell Cycle</text>
<rect x="330.25" y="641.53" width="22.75" height="6.30" fill="#3f55b5" stroke="#000" stroke-width="1.5" />
<line x1="278.30" y1="644.68" x2="286.50" y2="644.68" stroke="#000" stroke-width="1.5" stroke-linecap="butt" />
<text x="276.70" y="647.18" font-size="11.55" font-weight="bold" fill="#000" text-anchor="end">Cellular responses to stress</text>
<rect x="353.00" y="653.77" width="22.25" height="6.30" fill="#f44a4a" stroke="#000" stroke-width="1.5" />
<line x1="278.30" y1="656.92" x2="286.50" y2="656.92" stroke="#000" stroke-width="1.5" stroke-linecap="butt" />
<text x="276.70" y="659.42" font-size="11.55" font-weight="bold" fill="#000" text-anchor="end">Autophagy</text>
<rect x="353.00" y="666.01" width="23.00" height="6.30" fill="#f44a4a" stroke="#000" stroke-width="1.5" />
<line x1="278.30" y1="669.16" x2="286.50" y2="669.16" stroke="#000" stroke-width="1.5" stroke-linecap="butt" />
<text x="276.70" y="671.66" font-size="11.55" font-weight="bold" fill="#000" text-anchor="end">Defective Intrinsic Pathway for Apoptosis</text>
<rect x="353.00" y="678.25" width="23.75" height="6.30" fill="#f44a4a" stroke="#000" stroke-width="1.5" />
<line x1="278.30" y1="681.40" x2="286.50" y2="681.40" stroke="#000" stroke-width="1.5" stroke-linecap="butt" />
<text x="276.70" y="683.90" font-size="11.55" font-weight="bold" fill="#000" text-anchor="end">Cell Cycle</text>
<rect x="353.00" y="690.49" width="29.25" height="6.30" fill="#f44a4a" stroke="#000" stroke-width="1.5" />
<line x1="278.30" y1="693.64" x2="286.50" y2="693.64" stroke="#000" stroke-width="1.5" stroke-linecap="butt" />
<text x="276.70" y="696.14" font-size="11.55" font-weight="bold" fill="#000" text-anchor="end">Cellular responses to stress</text>
<rect x="353.00" y="702.73" width="30.75" height="6.30" fill="#f44a4a" stroke="#000" stroke-width="1.5" />
<line x1="278.30" y1="705.88" x2="286.50" y2="705.88" stroke="#000" stroke-width="1.5" stroke-linecap="butt" />
<text x="276.70" y="708.38" font-size="11.55" font-weight="bold" fill="#000" text-anchor="end">Chaperonin-mediated protein folding</text>
<rect x="353.00" y="714.97" width="49.75" height="6.30" fill="#f44a4a" stroke="#000" stroke-width="1.5" />
<line x1="278.30" y1="718.12" x2="286.50" y2="718.12" stroke="#000" stroke-width="1.5" stroke-linecap="butt" />
<text x="276.70" y="720.62" font-size="11.55" font-weight="bold" fill="#000" text-anchor="end">Post-translational protein modification</text>
<rect x="353.00" y="727.21" width="55.25" height="6.30" fill="#f44a4a" stroke="#000" stroke-width="1.5" />
<line x1="278.30" y1="730.36" x2="286.50" y2="730.36" stroke="#000" stroke-width="1.5" stroke-linecap="butt" />
<text x="276.70" y="732.86" font-size="11.55" font-weight="bold" fill="#000" text-anchor="end">Asparagine N-linked glycosylation</text>
<rect x="353.00" y="739.45" width="56.50" height="6.30" fill="#f44a4a" stroke="#000" stroke-width="1.5" />
<line x1="278.30" y1="742.60" x2="286.50" y2="742.60" stroke="#000" stroke-width="1.5" stroke-linecap="butt" />
<text x="276.70" y="745.10" font-size="11.55" font-weight="bold" fill="#000" text-anchor="end">Metabolism of proteins</text>
<line x1="286.50" y1="550.00" x2="286.50" y2="751.00" stroke="#000" stroke-width="1.5" stroke-linecap="butt" />
<line x1="353.00" y1="550.00" x2="353.00" y2="750.25" stroke="#000" stroke-width="1.5" stroke-linecap="butt" />
<line x1="285.75" y1="750.25" x2="420.25" y2="750.25" stroke="#000" stroke-width="1.5" stroke-linecap="butt" />
<line x1="286.60" y1="750.25" x2="286.60" y2="757.95" stroke="#000" stroke-width="1.5" stroke-linecap="butt" />
<text x="286.60" y="777.50" font-size="15.8" font-weight="bold" fill="#000" text-anchor="middle">–3</text>
<line x1="308.70" y1="750.25" x2="308.70" y2="757.95" stroke="#000" stroke-width="1.5" stroke-linecap="butt" />
<text x="308.70" y="777.50" font-size="15.8" font-weight="bold" fill="#000" text-anchor="middle">–2</text>
<line x1="330.80" y1="750.25" x2="330.80" y2="757.95" stroke="#000" stroke-width="1.5" stroke-linecap="butt" />
<text x="330.80" y="777.50" font-size="15.8" font-weight="bold" fill="#000" text-anchor="middle">–1</text>
<line x1="353.00" y1="750.25" x2="353.00" y2="757.95" stroke="#000" stroke-width="1.5" stroke-linecap="butt" />
<text x="353.00" y="777.50" font-size="15.8" font-weight="bold" fill="#000" text-anchor="middle">0</text>
<line x1="375.10" y1="750.25" x2="375.10" y2="757.95" stroke="#000" stroke-width="1.5" stroke-linecap="butt" />
<text x="375.10" y="777.50" font-size="15.8" font-weight="bold" fill="#000" text-anchor="middle">1</text>
<line x1="397.30" y1="750.25" x2="397.30" y2="757.95" stroke="#000" stroke-width="1.5" stroke-linecap="butt" />
<text x="397.30" y="777.50" font-size="15.8" font-weight="bold" fill="#000" text-anchor="middle">2</text>
<line x1="419.50" y1="750.25" x2="419.50" y2="757.95" stroke="#000" stroke-width="1.5" stroke-linecap="butt" />
<text x="419.50" y="777.50" font-size="15.8" font-weight="bold" fill="#000" text-anchor="middle">3</text>
<text x="350.20" y="805.00" font-size="16" font-weight="bold" fill="#000" text-anchor="middle" textLength="121.80" lengthAdjust="spacingAndGlyphs">–Log10(P value)</text>
<text x="445.50" y="543.20" font-size="18.5" font-weight="bold" fill="#000">E</text>
<text x="542.00" y="555.70" font-size="12.6" font-weight="bold" fill="#000" textLength="106.20" lengthAdjust="spacingAndGlyphs">Phosphoproteins</text>
<line x1="556.25" y1="578.30" x2="556.25" y2="697.80" stroke="#111" stroke-width="1.6" stroke-linecap="butt" />
<line x1="555.45" y1="697.00" x2="635.00" y2="697.00" stroke="#111" stroke-width="1.6" stroke-linecap="butt" />
<line x1="550.70" y1="579.25" x2="556.25" y2="579.25" stroke="#111" stroke-width="1.6" stroke-linecap="butt" />
<text x="549.30" y="584.05" font-size="13.8" font-weight="bold" fill="#000" text-anchor="end" textLength="50.00" lengthAdjust="spacingAndGlyphs">8.0×10<tspan font-size="9.38" dy="-4.97">6</tspan></text>
<line x1="550.70" y1="608.70" x2="556.25" y2="608.70" stroke="#111" stroke-width="1.6" stroke-linecap="butt" />
<text x="549.30" y="613.50" font-size="13.8" font-weight="bold" fill="#000" text-anchor="end" textLength="50.00" lengthAdjust="spacingAndGlyphs">6.0×10<tspan font-size="9.38" dy="-4.97">6</tspan></text>
<line x1="550.70" y1="638.10" x2="556.25" y2="638.10" stroke="#111" stroke-width="1.6" stroke-linecap="butt" />
<text x="549.30" y="642.90" font-size="13.8" font-weight="bold" fill="#000" text-anchor="end" textLength="50.00" lengthAdjust="spacingAndGlyphs">4.0×10<tspan font-size="9.38" dy="-4.97">6</tspan></text>
<line x1="550.70" y1="667.60" x2="556.25" y2="667.60" stroke="#111" stroke-width="1.6" stroke-linecap="butt" />
<text x="549.30" y="672.40" font-size="13.8" font-weight="bold" fill="#000" text-anchor="end" textLength="50.00" lengthAdjust="spacingAndGlyphs">2.0×10<tspan font-size="9.38" dy="-4.97">6</tspan></text>
<line x1="550.70" y1="697.00" x2="556.25" y2="697.00" stroke="#111" stroke-width="1.6" stroke-linecap="butt" />
<text x="549.30" y="701.80" font-size="13.8" font-weight="bold" fill="#000" text-anchor="end" textLength="8.30" lengthAdjust="spacingAndGlyphs">0</text>
<line x1="578.25" y1="697.00" x2="578.25" y2="702.20" stroke="#111" stroke-width="1.6" stroke-linecap="butt" />
<line x1="612.20" y1="697.00" x2="612.20" y2="702.20" stroke="#111" stroke-width="1.6" stroke-linecap="butt" />
<text x="474.30" y="693.60" font-size="15.8" font-weight="bold" fill="#000" textLength="123.80" lengthAdjust="spacingAndGlyphs" transform="rotate(-90 474.30 693.60)">Phosphopeptide</text>
<text x="493.30" y="673.00" font-size="15.8" font-weight="bold" fill="#000" textLength="83.30" lengthAdjust="spacingAndGlyphs" transform="rotate(-90 493.30 673.00)">abundance</text>
<path d="M578.10 619.30 C578.50 619.30 578.63 620.42 579.30 621.00 C579.97 621.58 580.97 622.30 582.10 622.80 C583.23 623.30 584.93 623.65 586.10 624.00 C587.27 624.35 589.10 624.60 589.10 624.90 C589.10 625.20 586.93 625.50 586.10 625.80 C585.27 626.10 584.17 626.38 584.10 626.70 C584.03 627.02 585.37 627.37 585.70 627.70 C586.03 628.03 586.37 628.35 586.10 628.70 C585.83 629.05 584.87 629.42 584.10 629.80 C583.33 630.18 582.28 630.58 581.50 631.00 C580.72 631.42 579.97 631.90 579.40 632.30 C578.83 632.70 578.53 633.40 578.10 633.40 C577.67 633.40 577.37 632.70 576.80 632.30 C576.23 631.90 575.48 631.42 574.70 631.00 C573.92 630.58 572.87 630.18 572.10 629.80 C571.33 629.42 570.37 629.05 570.10 628.70 C569.83 628.35 570.17 628.03 570.50 627.70 C570.83 627.37 572.17 627.02 572.10 626.70 C572.03 626.38 570.93 626.10 570.10 625.80 C569.27 625.50 567.10 625.20 567.10 624.90 C567.10 624.60 568.93 624.35 570.10 624.00 C571.27 623.65 572.97 623.30 574.10 622.80 C575.23 622.30 576.23 621.58 576.90 621.00 C577.57 620.42 577.70 619.30 578.10 619.30Z" fill="#f67e80" stroke="#000" stroke-width="1.8" stroke-linejoin="round"/>
<line x1="574.10" y1="625.60" x2="582.10" y2="625.60" stroke="#333" stroke-width="0.9" stroke-linecap="butt" stroke-dasharray="2.2 1.6"/>
<path d="M612.10 610.50 C612.33 610.50 612.60 612.55 612.80 613.50 C613.00 614.45 612.98 615.28 613.30 616.20 C613.62 617.12 614.28 618.13 614.70 619.00 C615.12 619.87 615.70 620.60 615.80 621.40 C615.90 622.20 615.52 623.02 615.30 623.80 C615.08 624.58 614.33 625.23 614.50 626.10 C614.67 626.97 615.62 628.05 616.30 629.00 C616.98 629.95 617.90 630.80 618.60 631.80 C619.30 632.80 619.92 633.95 620.50 635.00 C621.08 636.05 621.65 636.72 622.10 638.10 C622.55 639.48 623.10 641.90 623.20 643.30 C623.30 644.70 622.87 645.47 622.70 646.50 C622.53 647.53 622.22 648.58 622.20 649.50 C622.18 650.42 622.48 651.13 622.60 652.00 C622.72 652.87 623.15 653.78 622.90 654.70 C622.65 655.62 621.82 656.63 621.10 657.50 C620.38 658.37 619.43 659.07 618.60 659.90 C617.77 660.73 616.85 661.63 616.10 662.50 C615.35 663.37 614.60 664.15 614.10 665.10 C613.60 666.05 613.43 666.82 613.10 668.20 C612.77 669.58 612.43 673.40 612.10 673.40 C611.77 673.40 611.43 669.58 611.10 668.20 C610.77 666.82 610.60 666.05 610.10 665.10 C609.60 664.15 608.85 663.37 608.10 662.50 C607.35 661.63 606.43 660.73 605.60 659.90 C604.77 659.07 603.82 658.37 603.10 657.50 C602.38 656.63 601.55 655.62 601.30 654.70 C601.05 653.78 601.48 652.87 601.60 652.00 C601.72 651.13 602.02 650.42 602.00 649.50 C601.98 648.58 601.67 647.53 601.50 646.50 C601.33 645.47 600.90 644.70 601.00 643.30 C601.10 641.90 601.65 639.48 602.10 638.10 C602.55 636.72 603.12 636.05 603.70 635.00 C604.28 633.95 604.90 632.80 605.60 631.80 C606.30 630.80 607.22 629.95 607.90 629.00 C608.58 628.05 609.53 626.97 609.70 626.10 C609.87 625.23 609.12 624.58 608.90 623.80 C608.68 623.02 608.30 622.20 608.40 621.40 C608.50 620.60 609.08 619.87 609.50 619.00 C609.92 618.13 610.58 617.12 610.90 616.20 C611.22 615.28 611.20 614.45 611.40 613.50 C611.60 612.55 611.87 610.50 612.10 610.50Z" fill="#a16db3" stroke="#000" stroke-width="1.8" stroke-linejoin="round"/>
<line x1="602.58" y1="645.70" x2="621.62" y2="645.70" stroke="#222" stroke-width="1.1" stroke-linecap="butt" stroke-dasharray="2.6 1.8"/>
<line x1="602.99" y1="638.60" x2="621.21" y2="638.60" stroke="#6d3f8a" stroke-width="0.6" stroke-linecap="butt" />
<line x1="602.36" y1="654.20" x2="621.84" y2="654.20" stroke="#6d3f8a" stroke-width="0.6" stroke-linecap="butt" />
<path d="M578.10 612.90 V597.40 H612.10 V603.90" fill="none" stroke="#111" stroke-width="1.35" />
<text x="595.00" y="597.81" font-size="16.5" font-weight="bold" fill="#000" text-anchor="middle">***</text>
<text x="585.50" y="713.50" font-size="15.2" font-weight="bold" fill="#000" text-anchor="end" textLength="100.60" lengthAdjust="spacingAndGlyphs" transform="rotate(-45 585.50 713.50)">Normal brain</text>
<text x="619.30" y="713.50" font-size="15.2" font-weight="bold" fill="#000" text-anchor="end" textLength="57.00" lengthAdjust="spacingAndGlyphs" transform="rotate(-45 619.30 713.50)">Tumour</text>
<text x="745.30" y="558.70" font-size="12.6" font-weight="bold" fill="#000" textLength="91.20" lengthAdjust="spacingAndGlyphs">Methylproteins</text>
<line x1="750.75" y1="580.00" x2="750.75" y2="697.80" stroke="#111" stroke-width="1.6" stroke-linecap="butt" />
<line x1="749.95" y1="697.00" x2="829.00" y2="697.00" stroke="#111" stroke-width="1.6" stroke-linecap="butt" />
<line x1="745.20" y1="580.75" x2="750.75" y2="580.75" stroke="#111" stroke-width="1.6" stroke-linecap="butt" />
<text x="744.00" y="585.55" font-size="13.8" font-weight="bold" fill="#000" text-anchor="end" textLength="50.00" lengthAdjust="spacingAndGlyphs">4.0×10<tspan font-size="9.38" dy="-4.97">8</tspan></text>
<line x1="745.20" y1="609.90" x2="750.75" y2="609.90" stroke="#111" stroke-width="1.6" stroke-linecap="butt" />
<text x="744.00" y="614.70" font-size="13.8" font-weight="bold" fill="#000" text-anchor="end" textLength="50.00" lengthAdjust="spacingAndGlyphs">3.0×10<tspan font-size="9.38" dy="-4.97">8</tspan></text>
<line x1="745.20" y1="639.10" x2="750.75" y2="639.10" stroke="#111" stroke-width="1.6" stroke-linecap="butt" />
<text x="744.00" y="643.90" font-size="13.8" font-weight="bold" fill="#000" text-anchor="end" textLength="50.00" lengthAdjust="spacingAndGlyphs">2.0×10<tspan font-size="9.38" dy="-4.97">8</tspan></text>
<line x1="745.20" y1="668.20" x2="750.75" y2="668.20" stroke="#111" stroke-width="1.6" stroke-linecap="butt" />
<text x="744.00" y="673.00" font-size="13.8" font-weight="bold" fill="#000" text-anchor="end" textLength="50.00" lengthAdjust="spacingAndGlyphs">1.0×10<tspan font-size="9.38" dy="-4.97">8</tspan></text>
<line x1="745.20" y1="697.00" x2="750.75" y2="697.00" stroke="#111" stroke-width="1.6" stroke-linecap="butt" />
<text x="744.00" y="701.80" font-size="13.8" font-weight="bold" fill="#000" text-anchor="end" textLength="8.30" lengthAdjust="spacingAndGlyphs">0</text>
<line x1="772.75" y1="697.00" x2="772.75" y2="702.20" stroke="#111" stroke-width="1.6" stroke-linecap="butt" />
<line x1="806.10" y1="697.00" x2="806.10" y2="702.20" stroke="#111" stroke-width="1.6" stroke-linecap="butt" />
<text x="671.50" y="688.40" font-size="15.8" font-weight="bold" fill="#000" textLength="105.90" lengthAdjust="spacingAndGlyphs" transform="rotate(-90 671.50 688.40)">Mehtylpeptide</text>
<text x="690.30" y="676.70" font-size="15.8" font-weight="bold" fill="#000" textLength="82.70" lengthAdjust="spacingAndGlyphs" transform="rotate(-90 690.30 676.70)">abundance</text>
<path d="M772.90 652.10 C773.30 652.10 773.47 653.18 774.10 653.80 C774.73 654.42 776.40 655.22 776.70 655.80 C777.00 656.38 775.45 656.87 775.90 657.30 C776.35 657.73 778.10 658.05 779.40 658.40 C780.70 658.75 783.53 659.07 783.70 659.40 C783.87 659.73 781.37 660.05 780.40 660.40 C779.43 660.75 778.62 661.07 777.90 661.50 C777.18 661.93 776.70 662.50 776.10 663.00 C775.50 663.50 774.83 664.07 774.30 664.50 C773.77 664.93 773.37 665.60 772.90 665.60 C772.43 665.60 772.03 664.93 771.50 664.50 C770.97 664.07 770.30 663.50 769.70 663.00 C769.10 662.50 768.62 661.93 767.90 661.50 C767.18 661.07 766.37 660.75 765.40 660.40 C764.43 660.05 761.93 659.73 762.10 659.40 C762.27 659.07 765.10 658.75 766.40 658.40 C767.70 658.05 769.45 657.73 769.90 657.30 C770.35 656.87 768.80 656.38 769.10 655.80 C769.40 655.22 771.07 654.42 771.70 653.80 C772.33 653.18 772.50 652.10 772.90 652.10Z" fill="#f67e80" stroke="#000" stroke-width="1.8" stroke-linejoin="round"/>
<path d="M806.20 612.60 C806.43 612.60 806.67 614.70 806.90 616.00 C807.13 617.30 807.35 618.98 807.60 620.40 C807.85 621.82 808.03 623.40 808.40 624.50 C808.77 625.60 809.17 626.17 809.80 627.00 C810.43 627.83 811.30 628.67 812.20 629.50 C813.10 630.33 814.43 631.10 815.20 632.00 C815.97 632.90 816.70 633.98 816.80 634.90 C816.90 635.82 816.43 636.63 815.80 637.50 C815.17 638.37 813.50 639.18 813.00 640.10 C812.50 641.02 812.78 641.85 812.80 643.00 C812.82 644.15 813.07 645.57 813.10 647.00 C813.13 648.43 813.25 650.27 813.00 651.60 C812.75 652.93 812.03 653.97 811.60 655.00 C811.17 656.03 810.83 656.88 810.40 657.80 C809.97 658.72 809.40 659.63 809.00 660.50 C808.60 661.37 808.27 661.72 808.00 663.00 C807.73 664.28 807.55 666.53 807.40 668.20 C807.25 669.87 807.30 671.17 807.10 673.00 C806.90 674.83 806.50 679.20 806.20 679.20 C805.90 679.20 805.50 674.83 805.30 673.00 C805.10 671.17 805.15 669.87 805.00 668.20 C804.85 666.53 804.67 664.28 804.40 663.00 C804.13 661.72 803.80 661.37 803.40 660.50 C803.00 659.63 802.43 658.72 802.00 657.80 C801.57 656.88 801.23 656.03 800.80 655.00 C800.37 653.97 799.65 652.93 799.40 651.60 C799.15 650.27 799.27 648.43 799.30 647.00 C799.33 645.57 799.58 644.15 799.60 643.00 C799.62 641.85 799.90 641.02 799.40 640.10 C798.90 639.18 797.23 638.37 796.60 637.50 C795.97 636.63 795.50 635.82 795.60 634.90 C795.70 633.98 796.43 632.90 797.20 632.00 C797.97 631.10 799.30 630.33 800.20 629.50 C801.10 628.67 801.97 627.83 802.60 627.00 C803.23 626.17 803.63 625.60 804.00 624.50 C804.37 623.40 804.55 621.82 804.80 620.40 C805.05 618.98 805.27 617.30 805.50 616.00 C805.73 614.70 805.97 612.60 806.20 612.60Z" fill="#a16db3" stroke="#000" stroke-width="1.8" stroke-linejoin="round"/>
<line x1="800.60" y1="640.10" x2="811.80" y2="640.10" stroke="#222" stroke-width="1.1" stroke-linecap="butt" stroke-dasharray="2.6 1.8"/>
<line x1="796.88" y1="634.40" x2="815.52" y2="634.40" stroke="#6d3f8a" stroke-width="0.6" stroke-linecap="butt" />
<line x1="800.37" y1="650.30" x2="812.03" y2="650.30" stroke="#6d3f8a" stroke-width="0.6" stroke-linecap="butt" />
<path d="M772.75 645.00 V599.50 H806.50 V606.30" fill="none" stroke="#111" stroke-width="1.35" />
<text x="789.50" y="600.41" font-size="16.5" font-weight="bold" fill="#000" text-anchor="middle">**</text>
<text x="779.50" y="713.50" font-size="15.2" font-weight="bold" fill="#000" text-anchor="end" textLength="100.60" lengthAdjust="spacingAndGlyphs" transform="rotate(-45 779.50 713.50)">Normal brain</text>
<text x="812.20" y="713.50" font-size="15.2" font-weight="bold" fill="#000" text-anchor="end" textLength="57.00" lengthAdjust="spacingAndGlyphs" transform="rotate(-45 812.20 713.50)">Tumour</text>
<text x="23.70" y="829.00" font-size="18.5" font-weight="bold" fill="#000">F</text>
<text x="67.00" y="842.00" font-size="11.8" font-weight="bold" fill="#000" textLength="131.80" lengthAdjust="spacingAndGlyphs">Serine phosphorylation</text>
<rect x="108.85" y="880.35" width="18.30" height="89.15" fill="#f67e80"/>
<path d="M108.85 969.50 V880.35 H127.15 V969.50" fill="none" stroke="#000" stroke-width="1.7" />
<rect x="139.10" y="901.60" width="18.30" height="67.90" fill="#a16db3"/>
<path d="M139.10 969.50 V901.60 H157.40 V969.50" fill="none" stroke="#000" stroke-width="1.7" />
<line x1="118.00" y1="878.50" x2="118.00" y2="880.00" stroke="#333" stroke-width="1.0" stroke-linecap="butt" />
<line x1="113.70" y1="878.50" x2="122.50" y2="878.50" stroke="#333" stroke-width="1.0" stroke-linecap="butt" />
<line x1="148.30" y1="897.50" x2="148.30" y2="901.00" stroke="#333" stroke-width="1.0" stroke-linecap="butt" />
<line x1="143.70" y1="897.50" x2="153.00" y2="897.50" stroke="#333" stroke-width="1.0" stroke-linecap="butt" />
<line x1="97.50" y1="862.80" x2="97.50" y2="970.15" stroke="#222" stroke-width="1.3" stroke-linecap="butt" />
<line x1="96.85" y1="969.50" x2="168.80" y2="969.50" stroke="#222" stroke-width="1.3" stroke-linecap="butt" />
<line x1="92.50" y1="863.75" x2="97.50" y2="863.75" stroke="#222" stroke-width="1.3" stroke-linecap="butt" />
<text x="91.30" y="868.00" font-size="11.8" font-weight="bold" fill="#000" text-anchor="end" textLength="41.30" lengthAdjust="spacingAndGlyphs">5.0×10<tspan font-size="8.02" dy="-4.25">6</tspan></text>
<line x1="92.50" y1="884.90" x2="97.50" y2="884.90" stroke="#222" stroke-width="1.3" stroke-linecap="butt" />
<text x="91.30" y="889.15" font-size="11.8" font-weight="bold" fill="#000" text-anchor="end" textLength="41.30" lengthAdjust="spacingAndGlyphs">4.0×10<tspan font-size="8.02" dy="-4.25">6</tspan></text>
<line x1="92.50" y1="906.00" x2="97.50" y2="906.00" stroke="#222" stroke-width="1.3" stroke-linecap="butt" />
<text x="91.30" y="910.25" font-size="11.8" font-weight="bold" fill="#000" text-anchor="end" textLength="41.30" lengthAdjust="spacingAndGlyphs">3.0×10<tspan font-size="8.02" dy="-4.25">6</tspan></text>
<line x1="92.50" y1="927.20" x2="97.50" y2="927.20" stroke="#222" stroke-width="1.3" stroke-linecap="butt" />
<text x="91.30" y="931.45" font-size="11.8" font-weight="bold" fill="#000" text-anchor="end" textLength="41.30" lengthAdjust="spacingAndGlyphs">2.0×10<tspan font-size="8.02" dy="-4.25">6</tspan></text>
<line x1="92.50" y1="948.30" x2="97.50" y2="948.30" stroke="#222" stroke-width="1.3" stroke-linecap="butt" />
<text x="91.30" y="952.55" font-size="11.8" font-weight="bold" fill="#000" text-anchor="end" textLength="41.30" lengthAdjust="spacingAndGlyphs">1.0×10<tspan font-size="8.02" dy="-4.25">6</tspan></text>
<line x1="92.50" y1="969.50" x2="97.50" y2="969.50" stroke="#222" stroke-width="1.3" stroke-linecap="butt" />
<text x="91.30" y="973.75" font-size="11.8" font-weight="bold" fill="#000" text-anchor="end">0</text>
<line x1="118.00" y1="969.50" x2="118.00" y2="974.30" stroke="#222" stroke-width="1.3" stroke-linecap="butt" />
<line x1="148.20" y1="969.50" x2="148.20" y2="974.30" stroke="#222" stroke-width="1.3" stroke-linecap="butt" />
<path d="M117.50 872.00 V865.75 H148.50 V890.75" fill="none" stroke="#111" stroke-width="1.35" />
<text x="133.00" y="867.16" font-size="16" font-weight="bold" fill="#000" text-anchor="middle">****</text>
<text x="40.80" y="967.20" font-size="11.8" font-weight="bold" fill="#000" textLength="107.70" lengthAdjust="spacingAndGlyphs" transform="rotate(-90 40.80 967.20)">Peptide abundance</text>
<text x="218.75" y="842.00" font-size="11.8" font-weight="bold" fill="#000" textLength="152.00" lengthAdjust="spacingAndGlyphs">Threonine phosphorylation</text>
<rect x="272.10" y="881.60" width="17.25" height="88.40" fill="#f67e80"/>
<path d="M272.10 970.00 V881.60 H289.35 V970.00" fill="none" stroke="#000" stroke-width="1.7" />
<rect x="300.35" y="921.60" width="17.55" height="48.40" fill="#a16db3"/>
<path d="M300.35 970.00 V921.60 H317.90 V970.00" fill="none" stroke="#000" stroke-width="1.7" />
<line x1="280.50" y1="876.50" x2="280.50" y2="881.00" stroke="#333" stroke-width="1.0" stroke-linecap="butt" />
<line x1="275.70" y1="876.50" x2="285.00" y2="876.50" stroke="#333" stroke-width="1.0" stroke-linecap="butt" />
<line x1="309.20" y1="917.50" x2="309.20" y2="921.00" stroke="#333" stroke-width="1.0" stroke-linecap="butt" />
<line x1="304.20" y1="917.50" x2="314.20" y2="917.50" stroke="#333" stroke-width="1.0" stroke-linecap="butt" />
<line x1="261.25" y1="868.30" x2="261.25" y2="970.65" stroke="#222" stroke-width="1.3" stroke-linecap="butt" />
<line x1="260.60" y1="970.00" x2="329.30" y2="970.00" stroke="#222" stroke-width="1.3" stroke-linecap="butt" />
<line x1="256.20" y1="869.00" x2="261.25" y2="869.00" stroke="#222" stroke-width="1.3" stroke-linecap="butt" />
<text x="255.00" y="873.25" font-size="11.8" font-weight="bold" fill="#000" text-anchor="end" textLength="41.30" lengthAdjust="spacingAndGlyphs">2.0×10<tspan font-size="8.02" dy="-4.25">6</tspan></text>
<line x1="256.20" y1="894.30" x2="261.25" y2="894.30" stroke="#222" stroke-width="1.3" stroke-linecap="butt" />
<text x="255.00" y="898.55" font-size="11.8" font-weight="bold" fill="#000" text-anchor="end" textLength="41.30" lengthAdjust="spacingAndGlyphs">1.5×10<tspan font-size="8.02" dy="-4.25">6</tspan></text>
<line x1="256.20" y1="919.50" x2="261.25" y2="919.50" stroke="#222" stroke-width="1.3" stroke-linecap="butt" />
<text x="255.00" y="923.75" font-size="11.8" font-weight="bold" fill="#000" text-anchor="end" textLength="41.30" lengthAdjust="spacingAndGlyphs">1.0×10<tspan font-size="8.02" dy="-4.25">6</tspan></text>
<line x1="256.20" y1="944.80" x2="261.25" y2="944.80" stroke="#222" stroke-width="1.3" stroke-linecap="butt" />
<text x="255.00" y="949.05" font-size="11.8" font-weight="bold" fill="#000" text-anchor="end" textLength="41.30" lengthAdjust="spacingAndGlyphs">5.0×10<tspan font-size="8.02" dy="-4.25">6</tspan></text>
<line x1="256.20" y1="970.00" x2="261.25" y2="970.00" stroke="#222" stroke-width="1.3" stroke-linecap="butt" />
<text x="255.00" y="974.25" font-size="11.8" font-weight="bold" fill="#000" text-anchor="end">0</text>
<line x1="280.50" y1="970.00" x2="280.50" y2="974.80" stroke="#222" stroke-width="1.3" stroke-linecap="butt" />
<line x1="309.25" y1="970.00" x2="309.25" y2="974.80" stroke="#222" stroke-width="1.3" stroke-linecap="butt" />
<path d="M280.00 870.00 V864.50 H309.50 V910.75" fill="none" stroke="#111" stroke-width="1.35" />
<text x="295.00" y="866.46" font-size="16" font-weight="bold" fill="#000" text-anchor="middle">****</text>
<text x="207.80" y="969.50" font-size="11.8" font-weight="bold" fill="#000" textLength="107.70" lengthAdjust="spacingAndGlyphs" transform="rotate(-90 207.80 969.50)">Peptide abundance</text>
<text x="384.50" y="842.00" font-size="11.8" font-weight="bold" fill="#000" textLength="143.00" lengthAdjust="spacingAndGlyphs">Tyrosine phosphorylation</text>
<rect x="431.35" y="935.85" width="17.05" height="34.15" fill="#f67e80"/>
<path d="M431.35 970.00 V935.85 H448.40 V970.00" fill="none" stroke="#000" stroke-width="1.7" />
<rect x="460.10" y="894.35" width="17.30" height="75.65" fill="#a16db3"/>
<path d="M460.10 970.00 V894.35 H477.40 V970.00" fill="none" stroke="#000" stroke-width="1.7" />
<line x1="439.80" y1="932.00" x2="439.80" y2="935.50" stroke="#333" stroke-width="1.0" stroke-linecap="butt" />
<line x1="435.00" y1="932.00" x2="444.50" y2="932.00" stroke="#333" stroke-width="1.0" stroke-linecap="butt" />
<line x1="468.80" y1="876.25" x2="468.80" y2="894.00" stroke="#333" stroke-width="1.0" stroke-linecap="butt" />
<line x1="464.20" y1="876.25" x2="473.50" y2="876.25" stroke="#333" stroke-width="1.0" stroke-linecap="butt" />
<line x1="420.50" y1="868.30" x2="420.50" y2="970.65" stroke="#222" stroke-width="1.3" stroke-linecap="butt" />
<line x1="419.85" y1="970.00" x2="488.80" y2="970.00" stroke="#222" stroke-width="1.3" stroke-linecap="butt" />
<line x1="415.50" y1="869.00" x2="420.50" y2="869.00" stroke="#222" stroke-width="1.3" stroke-linecap="butt" />
<text x="414.30" y="873.25" font-size="11.8" font-weight="bold" fill="#000" text-anchor="end" textLength="42.20" lengthAdjust="spacingAndGlyphs">6.0×10<tspan font-size="8.02" dy="-4.25">6</tspan></text>
<line x1="415.50" y1="902.60" x2="420.50" y2="902.60" stroke="#222" stroke-width="1.3" stroke-linecap="butt" />
<text x="414.30" y="906.85" font-size="11.8" font-weight="bold" fill="#000" text-anchor="end" textLength="42.20" lengthAdjust="spacingAndGlyphs">4.0×10<tspan font-size="8.02" dy="-4.25">5</tspan></text>
<line x1="415.50" y1="936.30" x2="420.50" y2="936.30" stroke="#222" stroke-width="1.3" stroke-linecap="butt" />
<text x="414.30" y="940.55" font-size="11.8" font-weight="bold" fill="#000" text-anchor="end" textLength="42.20" lengthAdjust="spacingAndGlyphs">2.0×10<tspan font-size="8.02" dy="-4.25">5</tspan></text>
<line x1="415.50" y1="970.00" x2="420.50" y2="970.00" stroke="#222" stroke-width="1.3" stroke-linecap="butt" />
<text x="414.30" y="974.25" font-size="11.8" font-weight="bold" fill="#000" text-anchor="end">0</text>
<line x1="439.50" y1="970.00" x2="439.50" y2="974.80" stroke="#222" stroke-width="1.3" stroke-linecap="butt" />
<line x1="469.00" y1="970.00" x2="469.00" y2="974.80" stroke="#222" stroke-width="1.3" stroke-linecap="butt" />
<path d="M439.50 925.75 V864.00 H469.00 V870.00" fill="none" stroke="#111" stroke-width="1.35" />
<text x="454.50" y="865.66" font-size="16" font-weight="bold" fill="#000" text-anchor="middle">*</text>
<text x="367.20" y="969.50" font-size="11.8" font-weight="bold" fill="#000" textLength="107.70" lengthAdjust="spacingAndGlyphs" transform="rotate(-90 367.20 969.50)">Peptide abundance</text>
<rect x="525.40" y="884.85" width="13.50" height="5.45" fill="#f67e80" stroke="#000" stroke-width="2.2" />
<rect x="525.40" y="904.20" width="13.50" height="5.60" fill="#a16db3" stroke="#000" stroke-width="2.2" />
<text x="548.70" y="890.80" font-size="12.9" font-weight="normal" fill="#000" textLength="74.20" lengthAdjust="spacingAndGlyphs">Normal brain</text>
<text x="548.70" y="910.10" font-size="12.9" font-weight="normal" fill="#000" textLength="43.30" lengthAdjust="spacingAndGlyphs">Tumour</text>
<text x="124.50" y="1007.00" font-size="14" font-weight="bold" fill="#000" textLength="66.80" lengthAdjust="spacingAndGlyphs">Methyl (K)</text>
<rect x="132.10" y="1115.85" width="18.80" height="35.40" fill="#f67e80"/>
<path d="M132.10 1151.25 V1115.85 H150.90 V1151.25" fill="none" stroke="#000" stroke-width="1.7" />
<rect x="164.60" y="1066.60" width="19.05" height="84.65" fill="#a16db3"/>
<path d="M164.60 1151.25 V1066.60 H183.65 V1151.25" fill="none" stroke="#000" stroke-width="1.7" />
<line x1="141.50" y1="1112.00" x2="141.50" y2="1115.50" stroke="#333" stroke-width="1.0" stroke-linecap="butt" />
<line x1="136.20" y1="1112.00" x2="146.80" y2="1112.00" stroke="#333" stroke-width="1.0" stroke-linecap="butt" />
<line x1="174.00" y1="1045.00" x2="174.00" y2="1066.30" stroke="#333" stroke-width="1.0" stroke-linecap="butt" />
<line x1="168.70" y1="1045.00" x2="179.30" y2="1045.00" stroke="#333" stroke-width="1.0" stroke-linecap="butt" />
<line x1="120.50" y1="1036.50" x2="120.50" y2="1151.90" stroke="#222" stroke-width="1.3" stroke-linecap="butt" />
<line x1="119.85" y1="1151.25" x2="196.30" y2="1151.25" stroke="#222" stroke-width="1.3" stroke-linecap="butt" />
<line x1="115.50" y1="1037.25" x2="120.50" y2="1037.25" stroke="#222" stroke-width="1.3" stroke-linecap="butt" />
<text x="114.30" y="1042.00" font-size="13.2" font-weight="bold" fill="#000" text-anchor="end" textLength="46.70" lengthAdjust="spacingAndGlyphs">1.5×10<tspan font-size="8.98" dy="-4.75">7</tspan></text>
<line x1="115.50" y1="1075.25" x2="120.50" y2="1075.25" stroke="#222" stroke-width="1.3" stroke-linecap="butt" />
<text x="114.30" y="1080.00" font-size="13.2" font-weight="bold" fill="#000" text-anchor="end" textLength="46.70" lengthAdjust="spacingAndGlyphs">1.0×10<tspan font-size="8.98" dy="-4.75">7</tspan></text>
<line x1="115.50" y1="1113.25" x2="120.50" y2="1113.25" stroke="#222" stroke-width="1.3" stroke-linecap="butt" />
<text x="114.30" y="1118.00" font-size="13.2" font-weight="bold" fill="#000" text-anchor="end" textLength="46.70" lengthAdjust="spacingAndGlyphs">5.0×10<tspan font-size="8.98" dy="-4.75">6</tspan></text>
<line x1="115.50" y1="1151.25" x2="120.50" y2="1151.25" stroke="#222" stroke-width="1.3" stroke-linecap="butt" />
<text x="114.30" y="1156.00" font-size="13.2" font-weight="bold" fill="#000" text-anchor="end">0</text>
<line x1="141.50" y1="1151.25" x2="141.50" y2="1155.80" stroke="#222" stroke-width="1.3" stroke-linecap="butt" />
<line x1="174.00" y1="1151.25" x2="174.00" y2="1155.80" stroke="#222" stroke-width="1.3" stroke-linecap="butt" />
<path d="M141.50 1104.50 V1031.50 H174.00 V1038.25" fill="none" stroke="#111" stroke-width="1.35" />
<text x="157.50" y="1031.46" font-size="16" font-weight="bold" fill="#000" text-anchor="middle">*</text>
<text x="40.90" y="1146.30" font-size="11.8" font-weight="bold" fill="#000" textLength="107.90" lengthAdjust="spacingAndGlyphs" transform="rotate(-90 40.90 1146.30)">Peptide abundance</text>
<text x="257.00" y="1007.00" font-size="14" font-weight="bold" fill="#000" textLength="81.80" lengthAdjust="spacingAndGlyphs">Dimethyl (K)</text>
<rect x="271.35" y="1100.85" width="19.55" height="49.90" fill="#f67e80"/>
<path d="M271.35 1150.75 V1100.85 H290.90 V1150.75" fill="none" stroke="#000" stroke-width="1.7" />
<rect x="304.10" y="1057.85" width="20.05" height="92.90" fill="#a16db3"/>
<path d="M304.10 1150.75 V1057.85 H324.15 V1150.75" fill="none" stroke="#000" stroke-width="1.7" />
<line x1="281.00" y1="1095.00" x2="281.00" y2="1100.50" stroke="#333" stroke-width="1.0" stroke-linecap="butt" />
<line x1="275.70" y1="1095.00" x2="286.30" y2="1095.00" stroke="#333" stroke-width="1.0" stroke-linecap="butt" />
<line x1="314.00" y1="1045.75" x2="314.00" y2="1057.50" stroke="#333" stroke-width="1.0" stroke-linecap="butt" />
<line x1="308.70" y1="1045.75" x2="319.30" y2="1045.75" stroke="#333" stroke-width="1.0" stroke-linecap="butt" />
<line x1="258.75" y1="1034.50" x2="258.75" y2="1151.40" stroke="#222" stroke-width="1.3" stroke-linecap="butt" />
<line x1="258.10" y1="1150.75" x2="336.30" y2="1150.75" stroke="#222" stroke-width="1.3" stroke-linecap="butt" />
<line x1="253.70" y1="1035.25" x2="258.75" y2="1035.25" stroke="#222" stroke-width="1.3" stroke-linecap="butt" />
<text x="252.50" y="1040.00" font-size="13.2" font-weight="bold" fill="#000" text-anchor="end" textLength="46.30" lengthAdjust="spacingAndGlyphs">5.0×10<tspan font-size="8.98" dy="-4.75">7</tspan></text>
<line x1="253.70" y1="1058.35" x2="258.75" y2="1058.35" stroke="#222" stroke-width="1.3" stroke-linecap="butt" />
<text x="252.50" y="1063.10" font-size="13.2" font-weight="bold" fill="#000" text-anchor="end" textLength="46.30" lengthAdjust="spacingAndGlyphs">4.0×10<tspan font-size="8.98" dy="-4.75">7</tspan></text>
<line x1="253.70" y1="1081.45" x2="258.75" y2="1081.45" stroke="#222" stroke-width="1.3" stroke-linecap="butt" />
<text x="252.50" y="1086.20" font-size="13.2" font-weight="bold" fill="#000" text-anchor="end" textLength="46.30" lengthAdjust="spacingAndGlyphs">3.0×10<tspan font-size="8.98" dy="-4.75">7</tspan></text>
<line x1="253.70" y1="1104.55" x2="258.75" y2="1104.55" stroke="#222" stroke-width="1.3" stroke-linecap="butt" />
<text x="252.50" y="1109.30" font-size="13.2" font-weight="bold" fill="#000" text-anchor="end" textLength="46.30" lengthAdjust="spacingAndGlyphs">2.0×10<tspan font-size="8.98" dy="-4.75">7</tspan></text>
<line x1="253.70" y1="1127.65" x2="258.75" y2="1127.65" stroke="#222" stroke-width="1.3" stroke-linecap="butt" />
<text x="252.50" y="1132.40" font-size="13.2" font-weight="bold" fill="#000" text-anchor="end" textLength="46.30" lengthAdjust="spacingAndGlyphs">1.0×10<tspan font-size="8.98" dy="-4.75">7</tspan></text>
<line x1="253.70" y1="1150.75" x2="258.75" y2="1150.75" stroke="#222" stroke-width="1.3" stroke-linecap="butt" />
<text x="252.50" y="1155.50" font-size="13.2" font-weight="bold" fill="#000" text-anchor="end">0</text>
<line x1="281.00" y1="1150.75" x2="281.00" y2="1155.30" stroke="#222" stroke-width="1.3" stroke-linecap="butt" />
<line x1="313.75" y1="1150.75" x2="313.75" y2="1155.30" stroke="#222" stroke-width="1.3" stroke-linecap="butt" />
<path d="M280.50 1088.25 V1032.00 H313.75 V1038.25" fill="none" stroke="#111" stroke-width="1.35" />
<text x="297.50" y="1031.96" font-size="16" font-weight="bold" fill="#000" text-anchor="middle">**</text>
<text x="388.00" y="1007.00" font-size="14" font-weight="bold" fill="#000" textLength="83.80" lengthAdjust="spacingAndGlyphs">Trimethyl (K)</text>
<rect x="403.35" y="1134.60" width="19.05" height="14.15" fill="#f67e80"/>
<path d="M403.35 1148.75 V1134.60 H422.40 V1148.75" fill="none" stroke="#000" stroke-width="1.7" />
<rect x="435.35" y="1060.85" width="18.80" height="87.90" fill="#a16db3"/>
<path d="M435.35 1148.75 V1060.85 H454.15 V1148.75" fill="none" stroke="#000" stroke-width="1.7" />
<line x1="412.70" y1="1132.00" x2="412.70" y2="1134.00" stroke="#333" stroke-width="1.0" stroke-linecap="butt" />
<line x1="407.50" y1="1132.00" x2="418.00" y2="1132.00" stroke="#333" stroke-width="1.0" stroke-linecap="butt" />
<line x1="444.70" y1="1045.25" x2="444.70" y2="1060.50" stroke="#333" stroke-width="1.0" stroke-linecap="butt" />
<line x1="439.20" y1="1045.25" x2="450.00" y2="1045.25" stroke="#333" stroke-width="1.0" stroke-linecap="butt" />
<line x1="391.25" y1="1035.70" x2="391.25" y2="1149.40" stroke="#222" stroke-width="1.3" stroke-linecap="butt" />
<line x1="390.60" y1="1148.75" x2="466.30" y2="1148.75" stroke="#222" stroke-width="1.3" stroke-linecap="butt" />
<line x1="386.30" y1="1036.25" x2="391.25" y2="1036.25" stroke="#222" stroke-width="1.3" stroke-linecap="butt" />
<text x="384.60" y="1041.00" font-size="13.2" font-weight="bold" fill="#000" text-anchor="end" textLength="45.80" lengthAdjust="spacingAndGlyphs">8.0×10<tspan font-size="8.98" dy="-4.75">6</tspan></text>
<line x1="386.30" y1="1064.40" x2="391.25" y2="1064.40" stroke="#222" stroke-width="1.3" stroke-linecap="butt" />
<text x="384.60" y="1069.15" font-size="13.2" font-weight="bold" fill="#000" text-anchor="end" textLength="45.80" lengthAdjust="spacingAndGlyphs">6.0×10<tspan font-size="8.98" dy="-4.75">6</tspan></text>
<line x1="386.30" y1="1092.50" x2="391.25" y2="1092.50" stroke="#222" stroke-width="1.3" stroke-linecap="butt" />
<text x="384.60" y="1097.25" font-size="13.2" font-weight="bold" fill="#000" text-anchor="end" textLength="45.80" lengthAdjust="spacingAndGlyphs">4.0×10<tspan font-size="8.98" dy="-4.75">6</tspan></text>
<line x1="386.30" y1="1120.60" x2="391.25" y2="1120.60" stroke="#222" stroke-width="1.3" stroke-linecap="butt" />
<text x="384.60" y="1125.35" font-size="13.2" font-weight="bold" fill="#000" text-anchor="end" textLength="45.80" lengthAdjust="spacingAndGlyphs">2.0×10<tspan font-size="8.98" dy="-4.75">6</tspan></text>
<line x1="386.30" y1="1148.75" x2="391.25" y2="1148.75" stroke="#222" stroke-width="1.3" stroke-linecap="butt" />
<text x="384.60" y="1153.50" font-size="13.2" font-weight="bold" fill="#000" text-anchor="end">0</text>
<line x1="412.50" y1="1148.75" x2="412.50" y2="1153.30" stroke="#222" stroke-width="1.3" stroke-linecap="butt" />
<line x1="444.75" y1="1148.75" x2="444.75" y2="1153.30" stroke="#222" stroke-width="1.3" stroke-linecap="butt" />
<path d="M412.50 1125.75 V1032.50 H444.75 V1038.75" fill="none" stroke="#111" stroke-width="1.35" />
<text x="428.30" y="1032.66" font-size="16" font-weight="bold" fill="#000" text-anchor="middle">****</text>
<text x="529.25" y="1007.30" font-size="14" font-weight="bold" fill="#000" textLength="67.00" lengthAdjust="spacingAndGlyphs">Methyl (R)</text>
<rect x="536.60" y="1074.10" width="19.55" height="75.40" fill="#f67e80"/>
<path d="M536.60 1149.50 V1074.10 H556.15 V1149.50" fill="none" stroke="#000" stroke-width="1.7" />
<rect x="569.60" y="1055.60" width="20.05" height="93.90" fill="#a16db3"/>
<path d="M569.60 1149.50 V1055.60 H589.65 V1149.50" fill="none" stroke="#000" stroke-width="1.7" />
<line x1="546.30" y1="1070.00" x2="546.30" y2="1073.80" stroke="#333" stroke-width="1.0" stroke-linecap="butt" />
<line x1="540.70" y1="1070.00" x2="551.80" y2="1070.00" stroke="#333" stroke-width="1.0" stroke-linecap="butt" />
<line x1="579.60" y1="1046.50" x2="579.60" y2="1055.30" stroke="#333" stroke-width="1.0" stroke-linecap="butt" />
<line x1="574.20" y1="1046.50" x2="585.00" y2="1046.50" stroke="#333" stroke-width="1.0" stroke-linecap="butt" />
<line x1="524.50" y1="1032.70" x2="524.50" y2="1150.15" stroke="#222" stroke-width="1.3" stroke-linecap="butt" />
<line x1="523.85" y1="1149.50" x2="602.50" y2="1149.50" stroke="#222" stroke-width="1.3" stroke-linecap="butt" />
<line x1="519.50" y1="1033.50" x2="524.50" y2="1033.50" stroke="#222" stroke-width="1.3" stroke-linecap="butt" />
<text x="518.00" y="1038.25" font-size="13.2" font-weight="bold" fill="#000" text-anchor="end" textLength="46.70" lengthAdjust="spacingAndGlyphs">1.5×10<tspan font-size="8.98" dy="-4.75">8</tspan></text>
<line x1="519.50" y1="1072.20" x2="524.50" y2="1072.20" stroke="#222" stroke-width="1.3" stroke-linecap="butt" />
<text x="518.00" y="1076.95" font-size="13.2" font-weight="bold" fill="#000" text-anchor="end" textLength="46.70" lengthAdjust="spacingAndGlyphs">1.0×10<tspan font-size="8.98" dy="-4.75">8</tspan></text>
<line x1="519.50" y1="1110.80" x2="524.50" y2="1110.80" stroke="#222" stroke-width="1.3" stroke-linecap="butt" />
<text x="518.00" y="1115.55" font-size="13.2" font-weight="bold" fill="#000" text-anchor="end" textLength="46.70" lengthAdjust="spacingAndGlyphs">5.0×10<tspan font-size="8.98" dy="-4.75">7</tspan></text>
<line x1="519.50" y1="1149.50" x2="524.50" y2="1149.50" stroke="#222" stroke-width="1.3" stroke-linecap="butt" />
<text x="518.00" y="1154.25" font-size="13.2" font-weight="bold" fill="#000" text-anchor="end">0</text>
<line x1="546.25" y1="1149.50" x2="546.25" y2="1154.00" stroke="#222" stroke-width="1.3" stroke-linecap="butt" />
<line x1="579.50" y1="1149.50" x2="579.50" y2="1154.00" stroke="#222" stroke-width="1.3" stroke-linecap="butt" />
<path d="M546.25 1062.50 V1032.50 H579.50 V1038.75" fill="none" stroke="#111" stroke-width="1.35" />
<text x="563.00" y="1032.66" font-size="16" font-weight="bold" fill="#000" text-anchor="middle">*</text>
<text x="654.50" y="1007.00" font-size="14" font-weight="bold" fill="#000" textLength="82.00" lengthAdjust="spacingAndGlyphs">Dimethyl (R)</text>
<rect x="667.85" y="1115.35" width="20.30" height="33.40" fill="#f67e80"/>
<path d="M667.85 1148.75 V1115.35 H688.15 V1148.75" fill="none" stroke="#000" stroke-width="1.7" />
<rect x="701.60" y="1074.85" width="20.30" height="73.90" fill="#a16db3"/>
<path d="M701.60 1148.75 V1074.85 H721.90 V1148.75" fill="none" stroke="#000" stroke-width="1.7" />
<line x1="678.00" y1="1110.25" x2="678.00" y2="1115.00" stroke="#333" stroke-width="1.0" stroke-linecap="butt" />
<line x1="672.70" y1="1110.25" x2="683.50" y2="1110.25" stroke="#333" stroke-width="1.0" stroke-linecap="butt" />
<line x1="711.80" y1="1065.25" x2="711.80" y2="1074.50" stroke="#333" stroke-width="1.0" stroke-linecap="butt" />
<line x1="706.50" y1="1065.25" x2="717.30" y2="1065.25" stroke="#333" stroke-width="1.0" stroke-linecap="butt" />
<line x1="655.25" y1="1029.50" x2="655.25" y2="1149.40" stroke="#222" stroke-width="1.3" stroke-linecap="butt" />
<line x1="654.60" y1="1148.75" x2="735.30" y2="1148.75" stroke="#222" stroke-width="1.3" stroke-linecap="butt" />
<line x1="650.00" y1="1030.00" x2="655.25" y2="1030.00" stroke="#222" stroke-width="1.3" stroke-linecap="butt" />
<text x="647.60" y="1034.75" font-size="13.2" font-weight="bold" fill="#000" text-anchor="end" textLength="45.80" lengthAdjust="spacingAndGlyphs">1.5×10<tspan font-size="8.98" dy="-4.75">7</tspan></text>
<line x1="650.00" y1="1069.60" x2="655.25" y2="1069.60" stroke="#222" stroke-width="1.3" stroke-linecap="butt" />
<text x="647.60" y="1074.35" font-size="13.2" font-weight="bold" fill="#000" text-anchor="end" textLength="45.80" lengthAdjust="spacingAndGlyphs">1.0×10<tspan font-size="8.98" dy="-4.75">7</tspan></text>
<line x1="650.00" y1="1109.20" x2="655.25" y2="1109.20" stroke="#222" stroke-width="1.3" stroke-linecap="butt" />
<text x="647.60" y="1113.95" font-size="13.2" font-weight="bold" fill="#000" text-anchor="end" textLength="45.80" lengthAdjust="spacingAndGlyphs">5.0×10<tspan font-size="8.98" dy="-4.75">6</tspan></text>
<line x1="650.00" y1="1148.75" x2="655.25" y2="1148.75" stroke="#222" stroke-width="1.3" stroke-linecap="butt" />
<text x="647.60" y="1153.50" font-size="13.2" font-weight="bold" fill="#000" text-anchor="end">0</text>
<line x1="677.75" y1="1148.75" x2="677.75" y2="1153.80" stroke="#222" stroke-width="1.3" stroke-linecap="butt" />
<line x1="712.00" y1="1148.75" x2="712.00" y2="1153.80" stroke="#222" stroke-width="1.3" stroke-linecap="butt" />
<path d="M677.75 1103.25 V1051.25 H712.00 V1058.25" fill="none" stroke="#111" stroke-width="1.35" />
<text x="694.75" y="1051.96" font-size="16" font-weight="bold" fill="#000" text-anchor="middle">***</text>
<rect x="744.30" y="1047.60" width="13.10" height="5.80" fill="#f67e80" stroke="#000" stroke-width="2.2" />
<rect x="744.30" y="1067.30" width="13.10" height="5.60" fill="#a16db3" stroke="#000" stroke-width="2.2" />
<text x="767.20" y="1054.50" font-size="12.9" font-weight="normal" fill="#000" textLength="74.20" lengthAdjust="spacingAndGlyphs">Normal brain</text>
<text x="767.20" y="1073.80" font-size="12.9" font-weight="normal" fill="#000" textLength="43.30" lengthAdjust="spacingAndGlyphs">Tumour</text>
</svg>
</body></html>
